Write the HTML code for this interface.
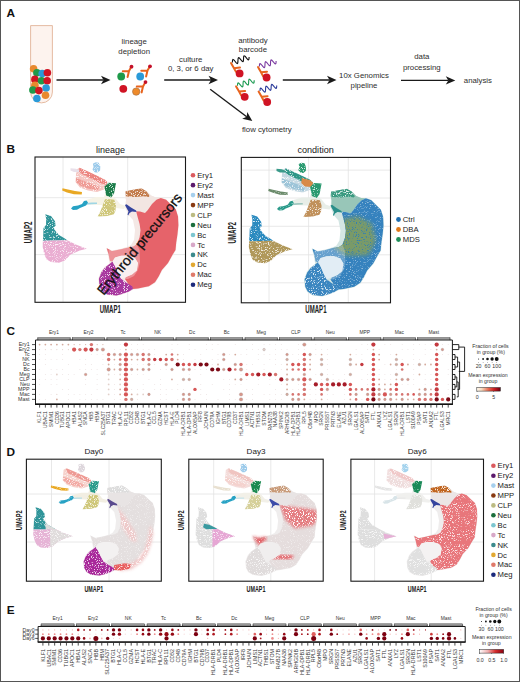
<!DOCTYPE html>
<html><head><meta charset="utf-8"><style>
html,body{margin:0;padding:0;background:#fff;width:520px;height:682px;overflow:hidden}
svg{display:block;font-family:"Liberation Sans", sans-serif}
</style></head><body>
<svg width="520" height="682" viewBox="0 0 520 682">
<rect x="0.5" y="0.5" width="519" height="681" fill="#fff" stroke="#555" stroke-width="1"/>
<text x="6.6" y="16.6" font-size="11.8" fill="#111" text-anchor="start" font-weight="bold" >A</text>
<text x="6.6" y="153.2" font-size="11.8" fill="#111" text-anchor="start" font-weight="bold" >B</text>
<text x="6.4" y="335" font-size="11.8" fill="#111" text-anchor="start" font-weight="bold" >C</text>
<text x="6.4" y="455.9" font-size="11.8" fill="#111" text-anchor="start" font-weight="bold" >D</text>
<text x="6.8" y="613.7" font-size="11.8" fill="#111" text-anchor="start" font-weight="bold" >E</text>
<path d="M30.6,25.6 H52.4 V92 A10.9,10.9 0 0 1 30.6,92 Z" fill="#fdf3ee" stroke="#e2b498" stroke-width="0.9"/>
<circle cx="33.6" cy="68.8" r="3.8" fill="#e8892e"/>
<circle cx="36.9" cy="72.8" r="3.8" fill="#1f9a4a"/>
<circle cx="42.2" cy="73.5" r="3.8" fill="#2a9ad8"/>
<circle cx="47.4" cy="72.8" r="3.8" fill="#d01424"/>
<circle cx="34.9" cy="79.4" r="3.8" fill="#d01424"/>
<circle cx="41.5" cy="80.7" r="3.8" fill="#1f9a4a"/>
<circle cx="47.2" cy="80.7" r="3.8" fill="#d01424"/>
<circle cx="34.9" cy="85.3" r="3.8" fill="#e8892e"/>
<circle cx="46.1" cy="88" r="3.8" fill="#2a9ad8"/>
<circle cx="32.9" cy="90" r="3.8" fill="#1f9a4a"/>
<circle cx="38.9" cy="90.6" r="3.8" fill="#d01424"/>
<circle cx="45.5" cy="95.2" r="3.8" fill="#e8892e"/>
<circle cx="36.9" cy="98.5" r="3.8" fill="#2a9ad8"/>
<line x1="56.5" y1="80" x2="103.5" y2="80" stroke="#1a1a1a" stroke-width="1.4"/>
<polygon points="110.5,80 101,84.2 103.5,80 101,75.8" fill="#1a1a1a"/>
<text x="134.2" y="43.8" font-size="7.8" fill="#2e2e2e" text-anchor="middle" font-weight="normal" >lineage</text>
<text x="134.2" y="53.8" font-size="7.8" fill="#2e2e2e" text-anchor="middle" font-weight="normal" >depletion</text>
<circle cx="121.2" cy="76.5" r="3.9" fill="#1f9a4a"/>
<circle cx="140.2" cy="76.5" r="3.9" fill="#2a9ad8"/>
<circle cx="123.3" cy="88.8" r="3.9" fill="#d01424"/>
<circle cx="136.2" cy="91.6" r="3.7" fill="#ee8a2a" stroke="#a06a40" stroke-width="0.6"/>
<g transform="translate(129,71) rotate(0) scale(1)"><path d="M-1.4,6.0 L0,0 L-6.2,0.2 M0,0 L2.2,-3.9" fill="none" stroke="#e8641e" stroke-width="2.0" stroke-linecap="round" stroke-linejoin="round"/><circle cx="2.5" cy="-4.3" r="1.9" fill="#c4102a"/></g>
<g transform="translate(147.5,70.6) rotate(0) scale(1)"><path d="M-1.4,6.0 L0,0 L-6.2,0.2 M0,0 L2.2,-3.9" fill="none" stroke="#e8641e" stroke-width="2.0" stroke-linecap="round" stroke-linejoin="round"/><circle cx="2.5" cy="-4.3" r="1.9" fill="#c4102a"/></g>
<g transform="translate(143,86.4) rotate(0) scale(1)"><path d="M-1.4,6.0 L0,0 L-6.2,0.2 M0,0 L2.2,-3.9" fill="none" stroke="#e8641e" stroke-width="2.0" stroke-linecap="round" stroke-linejoin="round"/><circle cx="2.5" cy="-4.3" r="1.9" fill="#c4102a"/></g>
<line x1="164.2" y1="80" x2="211" y2="80" stroke="#1a1a1a" stroke-width="1.4"/>
<polygon points="218,80 208.5,84.2 211,80 208.5,75.8" fill="#1a1a1a"/>
<text x="190.7" y="61.5" font-size="7.8" fill="#2e2e2e" text-anchor="middle" font-weight="normal" >culture</text>
<text x="190.7" y="71" font-size="7.8" fill="#2e2e2e" text-anchor="middle" font-weight="normal" >0, 3, or 6 day</text>
<line x1="210.2" y1="89.2" x2="246.71" y2="116.78" stroke="#1a1a1a" stroke-width="1.4"/>
<polygon points="252.3,121 242.19,118.63 246.71,116.78 247.25,111.92" fill="#1a1a1a"/>
<text x="241.9" y="131.7" font-size="7.8" fill="#2e2e2e" text-anchor="start" font-weight="normal" >flow cytometry</text>
<text x="252.9" y="42.7" font-size="7.8" fill="#2e2e2e" text-anchor="middle" font-weight="normal" >antibody</text>
<text x="252.9" y="52" font-size="7.8" fill="#2e2e2e" text-anchor="middle" font-weight="normal" >barcode</text>
<polyline points="232.4,62.4 232.46,61.01 232.62,59.96 232.98,59.47 233.55,59.65 234.31,60.4 235.18,61.48 236.05,62.57 236.82,63.32 237.39,63.49 237.74,63.01 237.91,61.95 237.97,60.57 238.02,59.18 238.19,58.12 238.55,57.64 239.12,57.82 239.88,58.57 240.75,59.65 241.62,60.73 242.38,61.48 242.95,61.66 243.31,61.18 243.48,60.12 243.53,58.73 243.59,57.35 243.76,56.29 244.11,55.81 244.68,55.98 245.45,56.73 246.32,57.82 247.19,58.9 247.95,59.65 248.52,59.83 248.88,59.34 249.04,58.29 249.1,56.9" fill="none" stroke="#111" stroke-width="1.1"/>
<path d="M231,63 L234,68.2 L240,67.6 M234,68.2 L236,71.8" fill="none" stroke="#e8641e" stroke-width="2.0" stroke-linecap="round" stroke-linejoin="round"/>
<circle cx="239.6" cy="73.4" r="3.9" fill="#d01424"/>
<polyline points="259.4,66.5 259.46,65.11 259.62,64.06 259.98,63.57 260.55,63.75 261.31,64.5 262.18,65.58 263.05,66.67 263.82,67.42 264.39,67.59 264.74,67.11 264.91,66.05 264.97,64.67 265.02,63.28 265.19,62.22 265.55,61.74 266.12,61.92 266.88,62.67 267.75,63.75 268.62,64.83 269.38,65.58 269.95,65.76 270.31,65.28 270.48,64.22 270.53,62.83 270.59,61.45 270.76,60.39 271.11,59.91 271.68,60.08 272.45,60.83 273.32,61.92 274.19,63 274.95,63.75 275.52,63.93 275.88,63.44 276.04,62.39 276.1,61" fill="none" stroke="#7a3aa0" stroke-width="1.1"/>
<path d="M258,67.1 L261,72.3 L267,71.7 M261,72.3 L263,75.9" fill="none" stroke="#e8641e" stroke-width="2.0" stroke-linecap="round" stroke-linejoin="round"/>
<circle cx="266.6" cy="77.5" r="3.9" fill="#d01424"/>
<polyline points="237.5,85.8 237.56,84.41 237.72,83.36 238.08,82.87 238.65,83.05 239.41,83.8 240.28,84.88 241.15,85.97 241.92,86.72 242.49,86.89 242.84,86.41 243.01,85.35 243.07,83.97 243.12,82.58 243.29,81.52 243.65,81.04 244.22,81.22 244.98,81.97 245.85,83.05 246.72,84.13 247.48,84.88 248.05,85.06 248.41,84.58 248.58,83.52 248.63,82.13 248.69,80.75 248.86,79.69 249.21,79.21 249.78,79.38 250.55,80.13 251.42,81.22 252.29,82.3 253.05,83.05 253.62,83.23 253.98,82.74 254.14,81.69 254.2,80.3" fill="none" stroke="#1a9a50" stroke-width="1.1"/>
<path d="M236.1,86.4 L239.1,91.6 L245.1,91 M239.1,91.6 L241.1,95.2" fill="none" stroke="#e8641e" stroke-width="2.0" stroke-linecap="round" stroke-linejoin="round"/>
<circle cx="244.7" cy="96.8" r="3.9" fill="#d01424"/>
<polyline points="260,91 260.06,89.61 260.22,88.56 260.58,88.07 261.15,88.25 261.91,89 262.78,90.08 263.65,91.17 264.42,91.92 264.99,92.09 265.34,91.61 265.51,90.55 265.57,89.17 265.62,87.78 265.79,86.72 266.15,86.24 266.72,86.42 267.48,87.17 268.35,88.25 269.22,89.33 269.98,90.08 270.55,90.26 270.91,89.78 271.08,88.72 271.13,87.33 271.19,85.95 271.36,84.89 271.71,84.41 272.28,84.58 273.05,85.33 273.92,86.42 274.79,87.5 275.55,88.25 276.12,88.43 276.48,87.94 276.64,86.89 276.7,85.5" fill="none" stroke="#2a3a9a" stroke-width="1.1"/>
<path d="M258.6,91.6 L261.6,96.8 L267.6,96.2 M261.6,96.8 L263.6,100.4" fill="none" stroke="#e8641e" stroke-width="2.0" stroke-linecap="round" stroke-linejoin="round"/>
<circle cx="267.2" cy="102" r="3.9" fill="#d01424"/>
<line x1="282.8" y1="80" x2="329.5" y2="80" stroke="#1a1a1a" stroke-width="1.4"/>
<polygon points="336.5,80 327,84.2 329.5,80 327,75.8" fill="#1a1a1a"/>
<text x="364" y="78.4" font-size="7.8" fill="#2e2e2e" text-anchor="middle" font-weight="normal" >10x Genomics</text>
<text x="364" y="88" font-size="7.8" fill="#2e2e2e" text-anchor="middle" font-weight="normal" >pipeline</text>
<line x1="401" y1="80.4" x2="448.3" y2="80.4" stroke="#1a1a1a" stroke-width="1.4"/>
<polygon points="455.3,80.4 445.8,84.6 448.3,80.4 445.8,76.2" fill="#1a1a1a"/>
<text x="421.8" y="59" font-size="7.8" fill="#2e2e2e" text-anchor="middle" font-weight="normal" >data</text>
<text x="421.8" y="69.5" font-size="7.8" fill="#2e2e2e" text-anchor="middle" font-weight="normal" >processing</text>
<text x="463.8" y="82.7" font-size="7.8" fill="#2e2e2e" text-anchor="start" font-weight="normal" >analysis</text>
<defs><filter id="spkL" x="-2%" y="-2%" width="104%" height="104%" color-interpolation-filters="sRGB"><feTurbulence type="fractalNoise" baseFrequency="1.0" numOctaves="2" seed="5" result="t"/><feColorMatrix in="t" type="matrix" values="0 0 0 0 1  0 0 0 0 1  0 0 0 0 1  0 0 0 6 -3.5" result="w0"/><feColorMatrix in="w0" type="matrix" values="1 0 0 0 0  0 1 0 0 0  0 0 1 0 0  0 0 0 0.45 0" result="w"/><feComposite in="w" in2="SourceAlpha" operator="in" result="w2"/><feMerge><feMergeNode in="SourceGraphic"/><feMergeNode in="w2"/></feMerge></filter></defs>
<defs><filter id="spkM" x="-2%" y="-2%" width="104%" height="104%" color-interpolation-filters="sRGB"><feTurbulence type="fractalNoise" baseFrequency="0.9" numOctaves="2" seed="5" result="t"/><feColorMatrix in="t" type="matrix" values="0 0 0 0 1  0 0 0 0 1  0 0 0 0 1  0 0 0 7 -3.9" result="w0"/><feColorMatrix in="w0" type="matrix" values="1 0 0 0 0  0 1 0 0 0  0 0 1 0 0  0 0 0 0.8 0" result="w"/><feComposite in="w" in2="SourceAlpha" operator="in" result="w2"/><feMerge><feMergeNode in="SourceGraphic"/><feMergeNode in="w2"/></feMerge></filter></defs>
<defs><filter id="spkH" x="-2%" y="-2%" width="104%" height="104%" color-interpolation-filters="sRGB"><feTurbulence type="fractalNoise" baseFrequency="0.9" numOctaves="2" seed="5" result="t"/><feColorMatrix in="t" type="matrix" values="0 0 0 0 1  0 0 0 0 1  0 0 0 0 1  0 0 0 6 -3.1" result="w0"/><feColorMatrix in="w0" type="matrix" values="1 0 0 0 0  0 1 0 0 0  0 0 1 0 0  0 0 0 0.85 0" result="w"/><feComposite in="w" in2="SourceAlpha" operator="in" result="w2"/><feMerge><feMergeNode in="SourceGraphic"/><feMergeNode in="w2"/></feMerge></filter></defs>
<defs><filter id="spkB" x="-10%" y="-10%" width="120%" height="120%" color-interpolation-filters="sRGB"><feGaussianBlur in="SourceGraphic" stdDeviation="2.2" result="b"/><feTurbulence type="fractalNoise" baseFrequency="0.9" numOctaves="2" seed="9" result="t"/><feColorMatrix in="t" type="matrix" values="0 0 0 0 0.2  0 0 0 0 0.5  0 0 0 0 0.7  0 0 0 7 -4.0" result="w"/><feComposite in="w" in2="b" operator="in" result="w2"/><feMerge><feMergeNode in="b"/><feMergeNode in="w2"/></feMerge></filter></defs>
<defs><filter id="spkM" x="-2%" y="-2%" width="104%" height="104%" color-interpolation-filters="sRGB"><feTurbulence type="fractalNoise" baseFrequency="0.9" numOctaves="2" seed="5" result="t"/><feColorMatrix in="t" type="matrix" values="0 0 0 0 1  0 0 0 0 1  0 0 0 0 1  0 0 0 7 -3.9" result="w0"/><feColorMatrix in="w0" type="matrix" values="1 0 0 0 0  0 1 0 0 0  0 0 1 0 0  0 0 0 1.0 0" result="w"/><feComposite in="w" in2="SourceAlpha" operator="in" result="w2"/><feMerge><feMergeNode in="SourceGraphic"/><feMergeNode in="w2"/></feMerge></filter></defs>
<defs><filter id="spkH" x="-2%" y="-2%" width="104%" height="104%" color-interpolation-filters="sRGB"><feTurbulence type="fractalNoise" baseFrequency="0.9" numOctaves="2" seed="5" result="t"/><feColorMatrix in="t" type="matrix" values="0 0 0 0 1  0 0 0 0 1  0 0 0 0 1  0 0 0 6 -3.1" result="w0"/><feColorMatrix in="w0" type="matrix" values="1 0 0 0 0  0 1 0 0 0  0 0 1 0 0  0 0 0 1.0 0" result="w"/><feComposite in="w" in2="SourceAlpha" operator="in" result="w2"/><feMerge><feMergeNode in="SourceGraphic"/><feMergeNode in="w2"/></feMerge></filter></defs>
<defs><filter id="spkBW" x="-10%" y="-10%" width="120%" height="120%" color-interpolation-filters="sRGB"><feGaussianBlur in="SourceGraphic" stdDeviation="1.6" result="b"/><feTurbulence type="fractalNoise" baseFrequency="0.9" numOctaves="2" seed="11" result="t"/><feColorMatrix in="t" type="matrix" values="0 0 0 0 1  0 0 0 0 1  0 0 0 0 1  0 0 0 7 -3.8" result="w"/><feComposite in="w" in2="b" operator="in" result="w2"/><feMerge><feMergeNode in="b"/><feMergeNode in="w2"/></feMerge></filter></defs>
<defs><clipPath id="clipDense" clipPathUnits="userSpaceOnUse"><polygon points="136.1,211.3 140,211.5 145,212.9 147.6,210.2 152,204 156.4,199.7 160.8,197.9 166.1,199.7 171.4,205 175.8,209.3 178,216.4 178.4,225.2 177.5,234 176.2,242.7 175.5,250 172.7,254.6 168,263 161.9,270 158.8,276.2 155,282.3 148.8,286.2 145,287 138,288.5 133,289 129,285 125,279 126,277 132,274.5 136.8,270.5 138,263 135,258 128,255.5 121,255.7 115,257.5 112.5,261.5 110,261 108.5,254 106.8,248.3 111.9,251.1 121.1,249.2 128.5,247.4 133.5,246.5 137,244.3 139.6,237.2 140.5,230.2 139.6,224 137.9,217.9"/></clipPath></defs>
<line x1="63" y1="157" x2="63" y2="302.3" stroke="#e2e2e2" stroke-width="0.8"/>
<line x1="127.7" y1="157" x2="127.7" y2="302.3" stroke="#e2e2e2" stroke-width="0.8"/>
<line x1="35" y1="197.7" x2="185.5" y2="197.7" stroke="#e2e2e2" stroke-width="0.8"/>
<line x1="35" y1="254.6" x2="185.5" y2="254.6" stroke="#e2e2e2" stroke-width="0.8"/>
<g transform="translate(35,157) scale(1.0000,1.0000) translate(-35,-157)">
<polygon points="125.7,191 133,190 141.6,188.4 147,191.5 151,195.5 156,197.5 160.8,197.5 166.1,199.3 171.4,204.6 175.8,209 178.4,216.4 178.8,225.2 178,234 176.6,242.7 176,250 173,255 168.4,263.3 162.2,270.4 159.2,276.6 155.4,282.7 149,286.8 145,287.6 138,289 133.5,289.5 128.5,292 122,294.5 116.5,296 107,295 101.5,291.5 99,286.5 98.3,278.8 101,271.5 104.5,267 109.5,263.5 108,254 106,247.7 112,250.5 121,248.7 128,246.5 131,245 134,240 135,230 133,220 128.5,215 125,207 126,200 125,195" fill="#f4e8e5"/>
<polygon points="125.7,191 133,190 141.6,188.4 147,191.5 151,195.5 156,197.5 160.8,197.9 156.4,199.7 152,204 147.6,210.2 145,212.9 140,211.5 136.1,211.3 130,210 126,207 126,200 125,195" fill="#f2e6e2"/>
<polygon points="86,200 96,197 104,197 106,192 112,196 116,199 120,204 126,206 124,209 116,208 110,205 100,205 90,204.5" fill="#f6f3e6"/>
<polygon points="136.1,211.3 140,211.5 145,212.9 147.6,210.2 152,204 156.4,199.7 160.8,197.9 166.1,199.7 171.4,205 175.8,209.3 178,216.4 178.4,225.2 177.5,234 176.2,242.7 175.5,250 172.7,254.6 168,263 161.9,270 158.8,276.2 155,282.3 148.8,286.2 145,287 138,288.5 133,289 129,285 125,279 126,277 132,274.5 136.8,270.5 138,263 135,258 128,255.5 121,255.7 115,257.5 112.5,261.5 110,261 108.5,254 106.8,248.3 111.9,251.1 121.1,249.2 128.5,247.4 133.5,246.5 137,244.3 139.6,237.2 140.5,230.2 139.6,224 137.9,217.9" fill="#e6636a" filter="url(#spkL)"/>
<polygon points="108.5,250 121,249.3 128.5,247.5 133.5,246.6 137,244.5 139.5,250 140,262 138,270 134,276 128,279 125,279 126,277 132,274.5 136.8,270.5 138,263 135,258 128,255.5 121,255.7 115,257.5 112.5,261.5 110,261 108.5,254" fill="#ffffff" fill-opacity="0.3"/>
<polygon points="98.9,278.8 101.5,272 105,267.5 109.5,264 112.5,261.5 115,266 118,273 121.1,278.8 126,282.5 132.2,286.2 133,289 128.5,291.7 122,294 116.5,295.4 107.2,294.5 102,291 99.5,286.2" fill="#a8389f" filter="url(#spkM)"/>
<polygon points="112.5,261.5 115,257.5 121,255.7 128,255.5 135,258 138,263 136.8,270.5 132,274.5 126,277 121.1,278.8 118,273 115,266" fill="#f9f0f0"/>
<polygon points="125.5,191.4 131.7,190 137,189 141.7,188.5 146.3,191.2 149.4,195.5 149,197 143.2,196.3 135.5,197 126,196.5" fill="#c27a4a" filter="url(#spkH)"/>
<polygon points="125,205 126.5,204.3 131,207.5 136.1,210.5 136.5,212 132,211.5 129.5,213 128.2,215.5 127.5,214.5 128.5,211.5 126,207" fill="#34449e"/>
<polygon points="92.9,163.7 95.5,162.3 98.7,162.8 100.3,166.5 100.1,170.5 97.5,172.6 95,172.4 92.4,169.5 93.6,167" fill="#9ccbeb" filter="url(#spkM)"/>
<polygon points="76.5,169.5 79.5,167.8 88,171.5 98,176.5 106,180.5 107.5,185 104,189.5 97,192 88,190.5 80,187.5 75.5,182 76,175" fill="#f5c6c2" filter="url(#spkM)"/>
<polygon points="70.5,168.3 76,168.8 79.5,170.3 79,172.2 74,172 70.5,170.6" fill="#e8e0ea"/>
<polygon points="79.5,167.8 84,169.8 95,174.8 104,179.2 107.3,182 106.5,184.8 100,183 92,179 82,174 79,171.5" fill="#ec8580" filter="url(#spkM)"/>
<polygon points="76,178 84,181 92,184 99,187 98,190.5 88,188.5 80,185.5 76,182" fill="#ef9a94" filter="url(#spkM)"/>
<polygon points="104.4,186.7 108.5,182.7 116,183.2 114,193.5 111.1,197.5 106.2,195.5" fill="#1b7d4a" filter="url(#spkM)"/>
<polygon points="97.7,216.5 100.6,211 103.1,204.2 105,199.2 110,199.2 114.3,199.8 116,205 115.4,211 113.8,214.3 107.1,216" fill="#cfc77a" filter="url(#spkM)"/>
<polygon points="62.5,188.3 68,189.6 75,191 82,192 81.7,194.6 74,194.2 67,192.4 62.2,190.6" fill="#e9a823" filter="url(#spkL)"/>
<polygon points="86,203 92,202.6 97,202.6 97,204 92,204.2 86,204.8" fill="#9fd6e4"/>
<polygon points="71,208.5 73,206.2 78,205.6 82,204 84,201 86.5,200.4 88,202.5 86,205.5 80,208 77,209.8 73,210" fill="#27a2c4" filter="url(#spkL)"/>
<polygon points="45.2,214.2 51,216 55,221.2 55.6,225.8 53.5,227.5 55.5,231 59,235 64.8,238.5 67.2,240.2 55,240.6 42.9,240.8 43.3,234 43.5,228 46,225 46.2,219" fill="#2f9499" filter="url(#spkM)"/>
<polygon points="42.9,240.8 55,240.6 67.2,240.2 76.4,244.8 86.8,248.8 79.8,250.6 70.6,254.6 64.8,260.4 59,262.7 51,262.1 46.4,259.2 44.1,253.5 42.6,246.5" fill="#eaaed2" filter="url(#spkM)"/>
</g>
<rect x="35" y="157" width="150.5" height="145.3" fill="none" stroke="#1a1a1a" stroke-width="1.1"/>
<text x="110.6" y="152.7" font-size="9" fill="#222" text-anchor="middle" font-weight="normal" >lineage</text>
<text x="110.25" y="312.8" font-size="10.3" fill="#222" text-anchor="middle" font-weight="bold" textLength="21.2" lengthAdjust="spacingAndGlyphs" >UMAP1</text>
<text x="0" y="0" font-size="10.3" fill="#222" text-anchor="middle" font-weight="bold" textLength="21.6" lengthAdjust="spacingAndGlyphs" transform="translate(31.5,232.35) rotate(-90)">UMAP2</text>
<text x="0" y="0" font-size="14" fill="#111" stroke="#111" stroke-width="0.3" transform="translate(103.7,296.1) rotate(-51)">Erythroid precursors</text>
<circle cx="193" cy="175.2" r="2.3" fill="#db5a5e"/>
<text x="197.2" y="177.8" font-size="7.7" fill="#222" text-anchor="start" font-weight="normal" >Ery1</text>
<circle cx="193" cy="185.16" r="2.3" fill="#5c1a6c"/>
<text x="197.2" y="187.76" font-size="7.7" fill="#222" text-anchor="start" font-weight="normal" >Ery2</text>
<circle cx="193" cy="195.12" r="2.3" fill="#a6d0ee"/>
<text x="197.2" y="197.72" font-size="7.7" fill="#222" text-anchor="start" font-weight="normal" >Mast</text>
<circle cx="193" cy="205.08" r="2.3" fill="#8a3a12"/>
<text x="197.2" y="207.68" font-size="7.7" fill="#222" text-anchor="start" font-weight="normal" >MPP</text>
<circle cx="193" cy="215.04" r="2.3" fill="#bcbb82"/>
<text x="197.2" y="217.64" font-size="7.7" fill="#222" text-anchor="start" font-weight="normal" >CLP</text>
<circle cx="193" cy="225" r="2.3" fill="#1b6e3c"/>
<text x="197.2" y="227.6" font-size="7.7" fill="#222" text-anchor="start" font-weight="normal" >Neu</text>
<circle cx="193" cy="234.96" r="2.3" fill="#7cc6d0"/>
<text x="197.2" y="237.56" font-size="7.7" fill="#222" text-anchor="start" font-weight="normal" >Bc</text>
<circle cx="193" cy="244.92" r="2.3" fill="#d8a8c8"/>
<text x="197.2" y="247.52" font-size="7.7" fill="#222" text-anchor="start" font-weight="normal" >Tc</text>
<circle cx="193" cy="254.88" r="2.3" fill="#3c8a8c"/>
<text x="197.2" y="257.48" font-size="7.7" fill="#222" text-anchor="start" font-weight="normal" >NK</text>
<circle cx="193" cy="264.84" r="2.3" fill="#e2a830"/>
<text x="197.2" y="267.44" font-size="7.7" fill="#222" text-anchor="start" font-weight="normal" >Dc</text>
<circle cx="193" cy="274.8" r="2.3" fill="#e07a6a"/>
<text x="197.2" y="277.4" font-size="7.7" fill="#222" text-anchor="start" font-weight="normal" >Mac</text>
<circle cx="193" cy="284.76" r="2.3" fill="#1c2a7c"/>
<text x="197.2" y="287.36" font-size="7.7" fill="#222" text-anchor="start" font-weight="normal" >Meg</text>
<line x1="269" y1="157.4" x2="269" y2="302.8" stroke="#e2e2e2" stroke-width="0.8"/>
<line x1="308.6" y1="157.4" x2="308.6" y2="302.8" stroke="#e2e2e2" stroke-width="0.8"/>
<line x1="348.3" y1="157.4" x2="348.3" y2="302.8" stroke="#e2e2e2" stroke-width="0.8"/>
<line x1="241.3" y1="170.1" x2="390.5" y2="170.1" stroke="#e2e2e2" stroke-width="0.8"/>
<line x1="241.3" y1="198" x2="390.5" y2="198" stroke="#e2e2e2" stroke-width="0.8"/>
<line x1="241.3" y1="226.3" x2="390.5" y2="226.3" stroke="#e2e2e2" stroke-width="0.8"/>
<line x1="241.3" y1="254.8" x2="390.5" y2="254.8" stroke="#e2e2e2" stroke-width="0.8"/>
<line x1="241.3" y1="282.8" x2="390.5" y2="282.8" stroke="#e2e2e2" stroke-width="0.8"/>
<g transform="translate(241.3,157.4) scale(0.9914,1.0007) translate(-35,-157)">
<polygon points="125.7,191 133,190 141.6,188.4 147,191.5 151,195.5 156,197.5 160.8,197.5 166.1,199.3 171.4,204.6 175.8,209 178.4,216.4 178.8,225.2 178,234 176.6,242.7 176,250 173,255 168.4,263.3 162.2,270.4 159.2,276.6 155.4,282.7 149,286.8 145,287.6 138,289 133.5,289.5 128.5,292 122,294.5 116.5,296 107,295 101.5,291.5 99,286.5 98.3,278.8 101,271.5 104.5,267 109.5,263.5 108,254 106,247.7 112,250.5 121,248.7 128,246.5 131,245 134,240 135,230 133,220 128.5,215 125,207 126,200 125,195" fill="#d4e6e4"/>
<polygon points="125.7,191 133,190 141.6,188.4 147,191.5 151,195.5 156,197.5 160.8,197.9 156.4,199.7 152,204 147.6,210.2 145,212.9 140,211.5 136.1,211.3 130,210 126,207 126,200 125,195" fill="#98c6b8"/>
<polygon points="86,200 96,197 104,197 106,192 112,196 116,199 120,204 126,206 124,209 116,208 110,205 100,205 90,204.5" fill="#e8eee8"/>
<polygon points="136.1,211.3 140,211.5 145,212.9 147.6,210.2 152,204 156.4,199.7 160.8,197.9 166.1,199.7 171.4,205 175.8,209.3 178,216.4 178.4,225.2 177.5,234 176.2,242.7 175.5,250 172.7,254.6 168,263 161.9,270 158.8,276.2 155,282.3 148.8,286.2 145,287 138,288.5 133,289 129,285 125,279 126,277 132,274.5 136.8,270.5 138,263 135,258 128,255.5 121,255.7 115,257.5 112.5,261.5 110,261 108.5,254 106.8,248.3 111.9,251.1 121.1,249.2 128.5,247.4 133.5,246.5 137,244.3 139.6,237.2 140.5,230.2 139.6,224 137.9,217.9" fill="#3582be" filter="url(#spkL)"/>
<g clip-path="url(#clipDense)">
<polygon points="128,221 152,216 166,223 170.5,240 163,254.5 140,255 128,246" fill="#7a9a68" filter="url(#spkB)"/>
</g>
<polygon points="108.5,250 121,249.3 128.5,247.5 133.5,246.6 137,244.5 139.5,250 140,262 138,270 134,276 128,279 125,279 126,277 132,274.5 136.8,270.5 138,263 135,258 128,255.5 121,255.7 115,257.5 112.5,261.5 110,261 108.5,254" fill="#ffffff" fill-opacity="0.25"/>
<polygon points="98.9,278.8 101.5,272 105,267.5 109.5,264 112.5,261.5 115,266 118,273 121.1,278.8 126,282.5 132.2,286.2 133,289 128.5,291.7 122,294 116.5,295.4 107.2,294.5 102,291 99.5,286.2" fill="#3b86c0" filter="url(#spkM)"/>
<polygon points="112.5,261.5 115,257.5 121,255.7 128,255.5 135,258 138,263 136.8,270.5 132,274.5 126,277 121.1,278.8 118,273 115,266" fill="#e2edf5"/>
<polygon points="125.5,191.4 131.7,190 137,189 141.7,188.5 146.3,191.2 149.4,195.5 149,197 143.2,196.3 135.5,197 126,196.5" fill="#3a9a80" filter="url(#spkH)"/>
<polygon points="125,205 126.5,204.3 131,207.5 136.1,210.5 136.5,212 132,211.5 129.5,213 128.2,215.5 127.5,214.5 128.5,211.5 126,207" fill="#2a8f8a"/>
<polygon points="92.9,163.7 95.5,162.3 98.7,162.8 100.3,166.5 100.1,170.5 97.5,172.6 95,172.4 92.4,169.5 93.6,167" fill="#2a9a70" filter="url(#spkM)"/>
<polygon points="76.5,169.5 79.5,167.8 88,171.5 98,176.5 106,180.5 107.5,185 104,189.5 97,192 88,190.5 80,187.5 75.5,182 76,175" fill="#c4d8e2" filter="url(#spkM)"/>
<polygon points="70.5,168.3 76,168.8 79.5,170.3 79,172.2 74,172 70.5,170.6" fill="#3a9a8a"/>
<polygon points="79.5,167.8 84,169.8 95,174.8 104,179.2 107.3,182 106.5,184.8 100,183 92,179 82,174 79,171.5" fill="#2f9688" filter="url(#spkM)"/>
<polygon points="76,178 84,181 92,184 99,187 98,190.5 88,188.5 80,185.5 76,182" fill="#9cc4d8" filter="url(#spkM)"/>
<polygon points="96,177.5 104,179.5 107.3,182 106.5,186.5 99,186 95.5,182.5" fill="#d88a48"/>
<polygon points="104.4,186.7 108.5,182.7 116,183.2 114,193.5 111.1,197.5 106.2,195.5" fill="#2a9a70" filter="url(#spkM)"/>
<polygon points="97.7,216.5 100.6,211 103.1,204.2 105,199.2 110,199.2 114.3,199.8 116,205 115.4,211 113.8,214.3 107.1,216" fill="#c0905a" filter="url(#spkM)"/>
<polygon points="62.5,188.3 68,189.6 75,191 82,192 81.7,194.6 74,194.2 67,192.4 62.2,190.6" fill="#6a8a6a" filter="url(#spkL)"/>
<polygon points="86,203 92,202.6 97,202.6 97,204 92,204.2 86,204.8" fill="#a0c8c0"/>
<polygon points="71,208.5 73,206.2 78,205.6 82,204 84,201 86.5,200.4 88,202.5 86,205.5 80,208 77,209.8 73,210" fill="#2a9a8a" filter="url(#spkL)"/>
<polygon points="45.2,214.2 51,216 55,221.2 55.6,225.8 53.5,227.5 55.5,231 59,235 64.8,238.5 67.2,240.2 55,240.6 42.9,240.8 43.3,234 43.5,228 46,225 46.2,219" fill="#2a8abf" filter="url(#spkM)"/>
<polygon points="42.9,240.8 55,240.6 67.2,240.2 76.4,244.8 86.8,248.8 79.8,250.6 70.6,254.6 64.8,260.4 59,262.7 51,262.1 46.4,259.2 44.1,253.5 42.6,246.5" fill="#b0985a" filter="url(#spkM)"/>
</g>
<rect x="241.3" y="157.4" width="149.2" height="145.4" fill="none" stroke="#1a1a1a" stroke-width="1.1"/>
<text x="315.6" y="152.7" font-size="9.1" fill="#222" text-anchor="middle" font-weight="normal" >condition</text>
<text x="315.9" y="312.6" font-size="10.3" fill="#222" text-anchor="middle" font-weight="bold" textLength="21.2" lengthAdjust="spacingAndGlyphs" >UMAP1</text>
<text x="0" y="0" font-size="10.3" fill="#222" text-anchor="middle" font-weight="bold" textLength="21.6" lengthAdjust="spacingAndGlyphs" transform="translate(236.4,232.8) rotate(-90)">UMAP2</text>
<circle cx="398.5" cy="219.5" r="2.4" fill="#1f6fb0"/>
<text x="402.8" y="222.1" font-size="7.7" fill="#222" text-anchor="start" font-weight="normal" >Ctrl</text>
<circle cx="398.5" cy="229.5" r="2.4" fill="#e07a1a"/>
<text x="402.8" y="232.1" font-size="7.7" fill="#222" text-anchor="start" font-weight="normal" >DBA</text>
<circle cx="398.5" cy="239.5" r="2.4" fill="#1f8f5a"/>
<text x="402.8" y="242.1" font-size="7.7" fill="#222" text-anchor="start" font-weight="normal" >MDS</text>
<line x1="51.5" y1="459.2" x2="51.5" y2="581.2" stroke="#e2e2e2" stroke-width="0.8"/>
<line x1="109" y1="459.2" x2="109" y2="581.2" stroke="#e2e2e2" stroke-width="0.8"/>
<line x1="26.4" y1="494" x2="161.3" y2="494" stroke="#e2e2e2" stroke-width="0.8"/>
<line x1="26.4" y1="542" x2="161.3" y2="542" stroke="#e2e2e2" stroke-width="0.8"/>
<g transform="translate(26.4,459.2) scale(0.8963,0.8396) translate(-35,-157)">
<polygon points="125.7,191 133,190 141.6,188.4 147,191.5 151,195.5 156,197.5 160.8,197.5 166.1,199.3 171.4,204.6 175.8,209 178.4,216.4 178.8,225.2 178,234 176.6,242.7 176,250 173,255 168.4,263.3 162.2,270.4 159.2,276.6 155.4,282.7 149,286.8 145,287.6 138,289 133.5,289.5 128.5,292 122,294.5 116.5,296 107,295 101.5,291.5 99,286.5 98.3,278.8 101,271.5 104.5,267 109.5,263.5 108,254 106,247.7 112,250.5 121,248.7 128,246.5 131,245 134,240 135,230 133,220 128.5,215 125,207 126,200 125,195" fill="#efeded"/>
<polygon points="125.7,191 133,190 141.6,188.4 147,191.5 151,195.5 156,197.5 160.8,197.9 156.4,199.7 152,204 147.6,210.2 145,212.9 140,211.5 136.1,211.3 130,210 126,207 126,200 125,195" fill="#e8e4e4"/>
<polygon points="86,200 96,197 104,197 106,192 112,196 116,199 120,204 126,206 124,209 116,208 110,205 100,205 90,204.5" fill="#f2eee2"/>
<polygon points="136.1,211.3 140,211.5 145,212.9 147.6,210.2 152,204 156.4,199.7 160.8,197.9 166.1,199.7 171.4,205 175.8,209.3 178,216.4 178.4,225.2 177.5,234 176.2,242.7 175.5,250 172.7,254.6 168,263 161.9,270 158.8,276.2 155,282.3 148.8,286.2 145,287 138,288.5 133,289 129,285 125,279 126,277 132,274.5 136.8,270.5 138,263 135,258 128,255.5 121,255.7 115,257.5 112.5,261.5 110,261 108.5,254 106.8,248.3 111.9,251.1 121.1,249.2 128.5,247.4 133.5,246.5 137,244.3 139.6,237.2 140.5,230.2 139.6,224 137.9,217.9" fill="#e4dfdf" filter="url(#spkL)"/>
<g clip-path="url(#clipDense)">
<polygon points="127,208 133,210 145,225 157,245 158,256 152,254 142,238 131,220 126,212" fill="#eecaca" filter="url(#spkBW)"/>
</g>
<polygon points="173,235 176.5,245 174,258 170,270 163,280 152,288 140,290 136,286 148,283 160,276 167,265 171,250" fill="#f0c4c4" filter="url(#spkBW)"/>
<polygon points="133,283 145,281 152,282 150,287.5 140,289.5 132,289" fill="#e86060" filter="url(#spkM)"/>
<polygon points="98.9,278.8 101.5,272 105,267.5 109.5,264 112.5,261.5 115,266 118,273 121.1,278.8 126,282.5 132.2,286.2 133,289 128.5,291.7 122,294 116.5,295.4 107.2,294.5 102,291 99.5,286.2" fill="#a8289a" filter="url(#spkM)"/>
<polygon points="112.5,261.5 115,257.5 121,255.7 128,255.5 135,258 138,263 136.8,270.5 132,274.5 126,277 121.1,278.8 118,273 115,266" fill="#f3f1f1"/>
<polygon points="125.5,191.4 131.7,190 137,189 141.7,188.5 146.3,191.2 149.4,195.5 149,197 143.2,196.3 135.5,197 126,196.5" fill="#dcdcdc" filter="url(#spkH)"/>
<polygon points="125,205 126.5,204.3 131,207.5 136.1,210.5 136.5,212 132,211.5 129.5,213 128.2,215.5 127.5,214.5 128.5,211.5 126,207" fill="#5a4a8e"/>
<polygon points="92.9,163.7 95.5,162.3 98.7,162.8 100.3,166.5 100.1,170.5 97.5,172.6 95,172.4 92.4,169.5 93.6,167" fill="#ddd6dc" filter="url(#spkM)"/>
<polygon points="76.5,169.5 79.5,167.8 88,171.5 98,176.5 106,180.5 107.5,185 104,189.5 97,192 88,190.5 80,187.5 75.5,182 76,175" fill="#f6d2cc" filter="url(#spkM)"/>
<polygon points="79.5,167.8 84,169.8 95,174.8 104,179.2 107.3,182 106.5,184.8 100,183 92,179 82,174 79,171.5" fill="#ee9a94" filter="url(#spkM)"/>
<polygon points="76,178 84,181 92,184 99,187 98,190.5 88,188.5 80,185.5 76,182" fill="#f2aaa4" filter="url(#spkM)"/>
<polygon points="104.4,186.7 108.5,182.7 116,183.2 114,193.5 111.1,197.5 106.2,195.5" fill="#2a9a8a" filter="url(#spkM)"/>
<polygon points="97.7,216.5 100.6,211 103.1,204.2 105,199.2 110,199.2 114.3,199.8 116,205 115.4,211 113.8,214.3 107.1,216" fill="#cfc77a" filter="url(#spkM)"/>
<polygon points="62.5,188.3 68,189.6 75,191 82,192 81.7,194.6 74,194.2 67,192.4 62.2,190.6" fill="#e9a823" filter="url(#spkL)"/>
<polygon points="86,203 92,202.6 97,202.6 97,204 92,204.2 86,204.8" fill="#b8dde6"/>
<polygon points="71,208.5 73,206.2 78,205.6 82,204 84,201 86.5,200.4 88,202.5 86,205.5 80,208 77,209.8 73,210" fill="#27a2c4" filter="url(#spkL)"/>
<polygon points="45.2,214.2 51,216 55,221.2 55.6,225.8 53.5,227.5 55.5,231 59,235 64.8,238.5 67.2,240.2 55,240.6 42.9,240.8 43.3,234 43.5,228 46,225 46.2,219" fill="#2f9499" filter="url(#spkM)"/>
<polygon points="56,225.5 55.5,231 59,235 64.8,238.5 67.2,240.2 61.5,240.3 56.5,240.5" fill="#dcdada" filter="url(#spkM)"/>
<polygon points="42.9,240.8 55,240.6 67.2,240.2 76.4,244.8 86.8,248.8 79.8,250.6 70.6,254.6 64.8,260.4 59,262.7 51,262.1 46.4,259.2 44.1,253.5 42.6,246.5" fill="#e6b4d6" filter="url(#spkM)"/>
<polygon points="61.5,240.3 67.2,240.2 76.4,244.8 86.8,248.8 79.8,250.6 70.6,254.6 64.8,260.4 61.5,261.8" fill="#e0dcdc" filter="url(#spkM)"/>
</g>
<rect x="26.4" y="459.2" width="134.9" height="122" fill="none" stroke="#1a1a1a" stroke-width="1.1"/>
<text x="93.85" y="453.9" font-size="8.1" fill="#222" text-anchor="middle" font-weight="normal" >Day0</text>
<text x="93.85" y="591.8" font-size="8.6" fill="#222" text-anchor="middle" font-weight="bold" textLength="18.8" lengthAdjust="spacingAndGlyphs" >UMAP1</text>
<text x="0" y="0" font-size="8.6" fill="#222" text-anchor="middle" font-weight="bold" textLength="19.8" lengthAdjust="spacingAndGlyphs" transform="translate(21.6,520.3) rotate(-90)">UMAP2</text>
<line x1="213.7" y1="459.2" x2="213.7" y2="581.2" stroke="#e2e2e2" stroke-width="0.8"/>
<line x1="270.8" y1="459.2" x2="270.8" y2="581.2" stroke="#e2e2e2" stroke-width="0.8"/>
<line x1="188.8" y1="494" x2="323.2" y2="494" stroke="#e2e2e2" stroke-width="0.8"/>
<line x1="188.8" y1="542" x2="323.2" y2="542" stroke="#e2e2e2" stroke-width="0.8"/>
<g transform="translate(188.8,459.2) scale(0.8930,0.8396) translate(-35,-157)">
<polygon points="125.7,191 133,190 141.6,188.4 147,191.5 151,195.5 156,197.5 160.8,197.5 166.1,199.3 171.4,204.6 175.8,209 178.4,216.4 178.8,225.2 178,234 176.6,242.7 176,250 173,255 168.4,263.3 162.2,270.4 159.2,276.6 155.4,282.7 149,286.8 145,287.6 138,289 133.5,289.5 128.5,292 122,294.5 116.5,296 107,295 101.5,291.5 99,286.5 98.3,278.8 101,271.5 104.5,267 109.5,263.5 108,254 106,247.7 112,250.5 121,248.7 128,246.5 131,245 134,240 135,230 133,220 128.5,215 125,207 126,200 125,195" fill="#efeded"/>
<polygon points="125.7,191 133,190 141.6,188.4 147,191.5 151,195.5 156,197.5 160.8,197.9 156.4,199.7 152,204 147.6,210.2 145,212.9 140,211.5 136.1,211.3 130,210 126,207 126,200 125,195" fill="#e8e4e4"/>
<polygon points="86,200 96,197 104,197 106,192 112,196 116,199 120,204 126,206 124,209 116,208 110,205 100,205 90,204.5" fill="#f2f0e8"/>
<polygon points="136.1,211.3 140,211.5 145,212.9 147.6,210.2 152,204 156.4,199.7 160.8,197.9 166.1,199.7 171.4,205 175.8,209.3 178,216.4 178.4,225.2 177.5,234 176.2,242.7 175.5,250 172.7,254.6 168,263 161.9,270 158.8,276.2 155,282.3 148.8,286.2 145,287 138,288.5 133,289 129,285 125,279 126,277 132,274.5 136.8,270.5 138,263 135,258 128,255.5 121,255.7 115,257.5 112.5,261.5 110,261 108.5,254 106.8,248.3 111.9,251.1 121.1,249.2 128.5,247.4 133.5,246.5 137,244.3 139.6,237.2 140.5,230.2 139.6,224 137.9,217.9" fill="#e5dddd" filter="url(#spkL)"/>
<g clip-path="url(#clipDense)">
<polygon points="136,210 150,213.5 165,215.5 179,218 179,229 174,236 154,239.5 143,229" fill="#e47c80" filter="url(#spkBW)"/>
</g>
<polygon points="106.5,248.5 113,251 121.5,249.5 122,253 117,256 115,261 112,257 109,253" fill="#e25a60" filter="url(#spkBW)"/>
<polygon points="128.6,271.5 140,271 152,271.5 151,276 140,276.3 129,275.5" fill="#e25c62" filter="url(#spkBW)"/>
<polygon points="98.9,278.8 101.5,272 105,267.5 109.5,264 112.5,261.5 115,266 118,273 121.1,278.8 126,282.5 132.2,286.2 133,289 128.5,291.7 122,294 116.5,295.4 107.2,294.5 102,291 99.5,286.2" fill="#e0dcdc" filter="url(#spkM)"/>
<polygon points="112.5,261.5 115,257.5 121,255.7 128,255.5 135,258 138,263 136.8,270.5 132,274.5 126,277 121.1,278.8 118,273 115,266" fill="#f0eeee"/>
<polygon points="125.5,191.4 131.7,190 137,189 141.7,188.5 146.3,191.2 149.4,195.5 149,197 143.2,196.3 135.5,197 126,196.5" fill="#c89a78" filter="url(#spkH)"/>
<polygon points="125,205 126.5,204.3 131,207.5 136.1,210.5 136.5,212 132,211.5 129.5,213 128.2,215.5 127.5,214.5 128.5,211.5 126,207" fill="#3a4aa8"/>
<polygon points="92.9,163.7 95.5,162.3 98.7,162.8 100.3,166.5 100.1,170.5 97.5,172.6 95,172.4 92.4,169.5 93.6,167" fill="#9ccbeb" filter="url(#spkM)"/>
<polygon points="76.5,169.5 79.5,167.8 88,171.5 98,176.5 106,180.5 107.5,185 104,189.5 97,192 88,190.5 80,187.5 75.5,182 76,175" fill="#f4dcda" filter="url(#spkM)"/>
<polygon points="79.5,167.8 84,169.8 95,174.8 104,179.2 107.3,182 106.5,184.8 100,183 92,179 82,174 79,171.5" fill="#f0c4c0" filter="url(#spkM)"/>
<polygon points="76,178 84,181 92,184 99,187 98,190.5 88,188.5 80,185.5 76,182" fill="#f4d2ce" filter="url(#spkM)"/>
<polygon points="104.4,186.7 108.5,182.7 116,183.2 114,193.5 111.1,197.5 106.2,195.5" fill="#1b8a50" filter="url(#spkM)"/>
<polygon points="97.7,216.5 100.6,211 103.1,204.2 105,199.2 110,199.2 114.3,199.8 116,205 115.4,211 113.8,214.3 107.1,216" fill="#d6d09a" filter="url(#spkM)"/>
<polygon points="62.5,188.3 68,189.6 75,191 82,192 81.7,194.6 74,194.2 67,192.4 62.2,190.6" fill="#e8e0d0" filter="url(#spkL)"/>
<polygon points="86,203 92,202.6 97,202.6 97,204 92,204.2 86,204.8" fill="#c8e4ea"/>
<polygon points="71,208.5 73,206.2 78,205.6 82,204 84,201 86.5,200.4 88,202.5 86,205.5 80,208 77,209.8 73,210" fill="#27a2c4" filter="url(#spkL)"/>
<polygon points="45.2,214.2 51,216 55,221.2 55.6,225.8 53.5,227.5 55.5,231 59,235 64.8,238.5 67.2,240.2 55,240.6 42.9,240.8 43.3,234 43.5,228 46,225 46.2,219" fill="#dedede" filter="url(#spkM)"/>
<polygon points="52,234 58,235 64.8,238.5 67.2,240.2 55,240.6 51,238" fill="#3a9aa0"/>
<polygon points="42.9,240.8 55,240.6 67.2,240.2 76.4,244.8 86.8,248.8 79.8,250.6 70.6,254.6 64.8,260.4 59,262.7 51,262.1 46.4,259.2 44.1,253.5 42.6,246.5" fill="#dedede" filter="url(#spkM)"/>
<polygon points="61.5,240.3 67.2,240.2 76.4,244.8 86.8,248.8 79.8,250.6 70.6,254.6 64.8,260.4 61.5,261.8" fill="#e6a6d4" filter="url(#spkM)"/>
</g>
<rect x="188.8" y="459.2" width="134.4" height="122" fill="none" stroke="#1a1a1a" stroke-width="1.1"/>
<text x="256" y="453.9" font-size="8.1" fill="#222" text-anchor="middle" font-weight="normal" >Day3</text>
<text x="256" y="591.8" font-size="8.6" fill="#222" text-anchor="middle" font-weight="bold" textLength="18.8" lengthAdjust="spacingAndGlyphs" >UMAP1</text>
<text x="0" y="0" font-size="8.6" fill="#222" text-anchor="middle" font-weight="bold" textLength="19.8" lengthAdjust="spacingAndGlyphs" transform="translate(184,520.3) rotate(-90)">UMAP2</text>
<line x1="374.6" y1="459.2" x2="374.6" y2="581.2" stroke="#e2e2e2" stroke-width="0.8"/>
<line x1="431.2" y1="459.2" x2="431.2" y2="581.2" stroke="#e2e2e2" stroke-width="0.8"/>
<line x1="350.9" y1="494" x2="483.5" y2="494" stroke="#e2e2e2" stroke-width="0.8"/>
<line x1="350.9" y1="542" x2="483.5" y2="542" stroke="#e2e2e2" stroke-width="0.8"/>
<g transform="translate(350.9,459.2) scale(0.8811,0.8396) translate(-35,-157)">
<polygon points="125.7,191 133,190 141.6,188.4 147,191.5 151,195.5 156,197.5 160.8,197.5 166.1,199.3 171.4,204.6 175.8,209 178.4,216.4 178.8,225.2 178,234 176.6,242.7 176,250 173,255 168.4,263.3 162.2,270.4 159.2,276.6 155.4,282.7 149,286.8 145,287.6 138,289 133.5,289.5 128.5,292 122,294.5 116.5,296 107,295 101.5,291.5 99,286.5 98.3,278.8 101,271.5 104.5,267 109.5,263.5 108,254 106,247.7 112,250.5 121,248.7 128,246.5 131,245 134,240 135,230 133,220 128.5,215 125,207 126,200 125,195" fill="#efeded"/>
<polygon points="125.7,191 133,190 141.6,188.4 147,191.5 151,195.5 156,197.5 160.8,197.9 156.4,199.7 152,204 147.6,210.2 145,212.9 140,211.5 136.1,211.3 130,210 126,207 126,200 125,195" fill="#ebe6e6"/>
<polygon points="86,200 96,197 104,197 106,192 112,196 116,199 120,204 126,206 124,209 116,208 110,205 100,205 90,204.5" fill="#f0f0ee"/>
<polygon points="136.1,211.3 140,211.5 145,212.9 147.6,210.2 152,204 156.4,199.7 160.8,197.9 166.1,199.7 171.4,205 175.8,209.3 178,216.4 178.4,225.2 177.5,234 176.2,242.7 175.5,250 172.7,254.6 168,263 161.9,270 158.8,276.2 155,282.3 148.8,286.2 145,287 138,288.5 133,289 129,285 125,279 126,277 132,274.5 136.8,270.5 138,263 135,258 128,255.5 121,255.7 115,257.5 112.5,261.5 110,261 108.5,254 106.8,248.3 111.9,251.1 121.1,249.2 128.5,247.4 133.5,246.5 137,244.3 139.6,237.2 140.5,230.2 139.6,224 137.9,217.9" fill="#e8767b" filter="url(#spkM)"/>
<polygon points="98.9,278.8 101.5,272 105,267.5 109.5,264 112.5,261.5 115,266 118,273 121.1,278.8 126,282.5 132.2,286.2 133,289 128.5,291.7 122,294 116.5,295.4 107.2,294.5 102,291 99.5,286.2" fill="#e0e0e0" filter="url(#spkM)"/>
<polygon points="112.5,261.5 115,257.5 121,255.7 128,255.5 135,258 138,263 136.8,270.5 132,274.5 126,277 121.1,278.8 118,273 115,266" fill="#f4f2f2"/>
<polygon points="125.5,191.4 131.7,190 137,189 141.7,188.5 146.3,191.2 149.4,195.5 149,197 143.2,196.3 135.5,197 126,196.5" fill="#c0641e" filter="url(#spkH)"/>
<polygon points="125,205 126.5,204.3 131,207.5 136.1,210.5 136.5,212 132,211.5 129.5,213 128.2,215.5 127.5,214.5 128.5,211.5 126,207" fill="#34449e"/>
<polygon points="92.9,163.7 95.5,162.3 98.7,162.8 100.3,166.5 100.1,170.5 97.5,172.6 95,172.4 92.4,169.5 93.6,167" fill="#a6d4ee" filter="url(#spkM)"/>
<polygon points="76.5,169.5 79.5,167.8 88,171.5 98,176.5 106,180.5 107.5,185 104,189.5 97,192 88,190.5 80,187.5 75.5,182 76,175" fill="#f2e0e0" filter="url(#spkM)"/>
<polygon points="79.5,167.8 84,169.8 95,174.8 104,179.2 107.3,182 106.5,184.8 100,183 92,179 82,174 79,171.5" fill="#f0c8c8" filter="url(#spkM)"/>
<polygon points="76,178 84,181 92,184 99,187 98,190.5 88,188.5 80,185.5 76,182" fill="#eedcdc" filter="url(#spkM)"/>
<polygon points="104.4,186.7 108.5,182.7 116,183.2 114,193.5 111.1,197.5 106.2,195.5" fill="#1b8a58" filter="url(#spkM)"/>
<polygon points="97.7,216.5 100.6,211 103.1,204.2 105,199.2 110,199.2 114.3,199.8 116,205 115.4,211 113.8,214.3 107.1,216" fill="#e0e0dc" filter="url(#spkM)"/>
<polygon points="62.5,188.3 68,189.6 75,191 82,192 81.7,194.6 74,194.2 67,192.4 62.2,190.6" fill="#e4e4e4" filter="url(#spkL)"/>
<polygon points="86,203 92,202.6 97,202.6 97,204 92,204.2 86,204.8" fill="#e8e8e8"/>
<polygon points="71,208.5 73,206.2 78,205.6 82,204 84,201 86.5,200.4 88,202.5 86,205.5 80,208 77,209.8 73,210" fill="#d8e4e8" filter="url(#spkL)"/>
<polygon points="45.2,214.2 51,216 55,221.2 55.6,225.8 53.5,227.5 55.5,231 59,235 64.8,238.5 67.2,240.2 55,240.6 42.9,240.8 43.3,234 43.5,228 46,225 46.2,219" fill="#dedede" filter="url(#spkM)"/>
<polygon points="42.9,240.8 55,240.6 67.2,240.2 76.4,244.8 86.8,248.8 79.8,250.6 70.6,254.6 64.8,260.4 59,262.7 51,262.1 46.4,259.2 44.1,253.5 42.6,246.5" fill="#dedede" filter="url(#spkM)"/>
<polygon points="72,245.5 86.8,248.8 79.8,250.6 73,252" fill="#e6b0d6"/>
</g>
<rect x="350.9" y="459.2" width="132.6" height="122" fill="none" stroke="#1a1a1a" stroke-width="1.1"/>
<text x="417.2" y="453.9" font-size="8.1" fill="#222" text-anchor="middle" font-weight="normal" >Day6</text>
<text x="417.2" y="591.8" font-size="8.6" fill="#222" text-anchor="middle" font-weight="bold" textLength="18.8" lengthAdjust="spacingAndGlyphs" >UMAP1</text>
<text x="0" y="0" font-size="8.6" fill="#222" text-anchor="middle" font-weight="bold" textLength="19.8" lengthAdjust="spacingAndGlyphs" transform="translate(346.1,520.3) rotate(-90)">UMAP2</text>
<circle cx="493.4" cy="465.8" r="2.3" fill="#db5a5e"/>
<text x="497.5" y="468.4" font-size="7.7" fill="#222" text-anchor="start" font-weight="normal" >Ery1</text>
<circle cx="493.4" cy="475.7" r="2.3" fill="#5c1a6c"/>
<text x="497.5" y="478.3" font-size="7.7" fill="#222" text-anchor="start" font-weight="normal" >Ery2</text>
<circle cx="493.4" cy="485.6" r="2.3" fill="#a6d0ee"/>
<text x="497.5" y="488.2" font-size="7.7" fill="#222" text-anchor="start" font-weight="normal" >Mast</text>
<circle cx="493.4" cy="495.5" r="2.3" fill="#8a3a12"/>
<text x="497.5" y="498.1" font-size="7.7" fill="#222" text-anchor="start" font-weight="normal" >MPP</text>
<circle cx="493.4" cy="505.4" r="2.3" fill="#bcbb82"/>
<text x="497.5" y="508" font-size="7.7" fill="#222" text-anchor="start" font-weight="normal" >CLP</text>
<circle cx="493.4" cy="515.3" r="2.3" fill="#1b6e3c"/>
<text x="497.5" y="517.9" font-size="7.7" fill="#222" text-anchor="start" font-weight="normal" >Neu</text>
<circle cx="493.4" cy="525.2" r="2.3" fill="#7cc6d0"/>
<text x="497.5" y="527.8" font-size="7.7" fill="#222" text-anchor="start" font-weight="normal" >Bc</text>
<circle cx="493.4" cy="535.1" r="2.3" fill="#d8a8c8"/>
<text x="497.5" y="537.7" font-size="7.7" fill="#222" text-anchor="start" font-weight="normal" >Tc</text>
<circle cx="493.4" cy="545" r="2.3" fill="#3c8a8c"/>
<text x="497.5" y="547.6" font-size="7.7" fill="#222" text-anchor="start" font-weight="normal" >NK</text>
<circle cx="493.4" cy="554.9" r="2.3" fill="#e2a830"/>
<text x="497.5" y="557.5" font-size="7.7" fill="#222" text-anchor="start" font-weight="normal" >Dc</text>
<circle cx="493.4" cy="564.8" r="2.3" fill="#e07a6a"/>
<text x="497.5" y="567.4" font-size="7.7" fill="#222" text-anchor="start" font-weight="normal" >Mac</text>
<circle cx="493.4" cy="574.7" r="2.3" fill="#1c2a7c"/>
<text x="497.5" y="577.3" font-size="7.7" fill="#222" text-anchor="start" font-weight="normal" >Meg</text>
<circle cx="39.6" cy="344.6" r="0.9" fill="#d4ab9e"/>
<circle cx="39.6" cy="349.58" r="0.55" fill="#e2d0ca"/>
<circle cx="39.6" cy="354.56" r="0.5" fill="#ece2e2"/>
<circle cx="39.6" cy="359.54" r="0.5" fill="#ece2e2"/>
<circle cx="39.6" cy="369.5" r="0.5" fill="#ece2e2"/>
<circle cx="39.6" cy="379.46" r="0.5" fill="#ece2e2"/>
<circle cx="39.6" cy="384.44" r="0.5" fill="#ece2e2"/>
<circle cx="39.6" cy="394.4" r="0.5" fill="#ece2e2"/>
<circle cx="39.6" cy="399.38" r="0.5" fill="#ece2e2"/>
<circle cx="45.36" cy="344.6" r="0.9" fill="#d4ab9e"/>
<circle cx="45.36" cy="349.58" r="0.55" fill="#e2d0ca"/>
<circle cx="45.36" cy="354.56" r="0.5" fill="#ece2e2"/>
<circle cx="45.36" cy="359.54" r="0.5" fill="#ece2e2"/>
<circle cx="45.36" cy="364.52" r="0.5" fill="#ece2e2"/>
<circle cx="45.36" cy="374.48" r="0.5" fill="#ece2e2"/>
<circle cx="45.36" cy="379.46" r="0.5" fill="#ece2e2"/>
<circle cx="45.36" cy="399.38" r="0.5" fill="#ece2e2"/>
<circle cx="51.11" cy="344.6" r="0.9" fill="#d4ab9e"/>
<circle cx="51.11" cy="349.58" r="0.55" fill="#e2d0ca"/>
<circle cx="51.11" cy="359.54" r="0.5" fill="#ece2e2"/>
<circle cx="51.11" cy="369.5" r="0.5" fill="#ece2e2"/>
<circle cx="51.11" cy="374.48" r="0.5" fill="#ece2e2"/>
<circle cx="51.11" cy="379.46" r="0.5" fill="#ece2e2"/>
<circle cx="51.11" cy="384.44" r="0.5" fill="#ece2e2"/>
<circle cx="51.11" cy="394.4" r="0.5" fill="#ece2e2"/>
<circle cx="56.87" cy="344.6" r="0.9" fill="#d4ab9e"/>
<circle cx="56.87" cy="349.58" r="0.55" fill="#e2d0ca"/>
<circle cx="56.87" cy="359.54" r="0.5" fill="#ece2e2"/>
<circle cx="56.87" cy="369.5" r="0.5" fill="#ece2e2"/>
<circle cx="56.87" cy="374.48" r="0.9" fill="#e2d0ca"/>
<circle cx="56.87" cy="379.46" r="0.5" fill="#ece2e2"/>
<circle cx="56.87" cy="384.44" r="0.5" fill="#ece2e2"/>
<circle cx="56.87" cy="394.4" r="0.55" fill="#e2d0ca"/>
<circle cx="56.87" cy="399.38" r="0.9" fill="#d4ab9e"/>
<circle cx="62.62" cy="344.6" r="0.9" fill="#d4ab9e"/>
<circle cx="62.62" cy="349.58" r="0.55" fill="#e2d0ca"/>
<circle cx="62.62" cy="354.56" r="0.5" fill="#ece2e2"/>
<circle cx="62.62" cy="359.54" r="0.5" fill="#ece2e2"/>
<circle cx="62.62" cy="369.5" r="0.5" fill="#ece2e2"/>
<circle cx="62.62" cy="374.48" r="0.5" fill="#ece2e2"/>
<circle cx="62.62" cy="389.42" r="0.5" fill="#ece2e2"/>
<circle cx="68.38" cy="344.6" r="0.9" fill="#d4ab9e"/>
<circle cx="68.38" cy="349.58" r="0.55" fill="#e2d0ca"/>
<circle cx="68.38" cy="364.52" r="0.5" fill="#ece2e2"/>
<circle cx="68.38" cy="374.48" r="0.5" fill="#ece2e2"/>
<circle cx="68.38" cy="379.46" r="0.5" fill="#ece2e2"/>
<circle cx="68.38" cy="389.42" r="0.5" fill="#ece2e2"/>
<circle cx="68.38" cy="394.4" r="0.5" fill="#ece2e2"/>
<circle cx="68.38" cy="399.38" r="0.5" fill="#ece2e2"/>
<circle cx="74.13" cy="344.6" r="0.55" fill="#d4ab9e"/>
<circle cx="74.13" cy="349.58" r="2.1" fill="#d65656"/>
<circle cx="74.13" cy="374.48" r="0.5" fill="#ece2e2"/>
<circle cx="74.13" cy="394.4" r="0.5" fill="#ece2e2"/>
<circle cx="79.88" cy="344.6" r="0.55" fill="#d4ab9e"/>
<circle cx="79.88" cy="349.58" r="1.7" fill="#d67470"/>
<circle cx="79.88" cy="359.54" r="0.5" fill="#ece2e2"/>
<circle cx="79.88" cy="369.5" r="0.5" fill="#ece2e2"/>
<circle cx="79.88" cy="394.4" r="0.5" fill="#ece2e2"/>
<circle cx="79.88" cy="399.38" r="0.5" fill="#ece2e2"/>
<circle cx="85.64" cy="344.6" r="0.55" fill="#d4ab9e"/>
<circle cx="85.64" cy="349.58" r="2.1" fill="#d65656"/>
<circle cx="85.64" cy="359.54" r="0.5" fill="#ece2e2"/>
<circle cx="85.64" cy="364.52" r="0.5" fill="#ece2e2"/>
<circle cx="85.64" cy="369.5" r="0.5" fill="#ece2e2"/>
<circle cx="85.64" cy="374.48" r="1.3" fill="#d8978a" stroke="#a09090" stroke-width="0.3"/>
<circle cx="85.64" cy="379.46" r="0.5" fill="#ece2e2"/>
<circle cx="85.64" cy="384.44" r="0.5" fill="#ece2e2"/>
<circle cx="85.64" cy="394.4" r="0.5" fill="#ece2e2"/>
<circle cx="85.64" cy="399.38" r="0.5" fill="#ece2e2"/>
<circle cx="91.4" cy="344.6" r="1.7" fill="#d67470"/>
<circle cx="91.4" cy="349.58" r="2.1" fill="#c43a40"/>
<circle cx="91.4" cy="354.56" r="0.5" fill="#ece2e2"/>
<circle cx="91.4" cy="364.52" r="0.5" fill="#ece2e2"/>
<circle cx="91.4" cy="369.5" r="0.5" fill="#ece2e2"/>
<circle cx="91.4" cy="394.4" r="0.5" fill="#ece2e2"/>
<circle cx="91.4" cy="399.38" r="0.5" fill="#ece2e2"/>
<circle cx="97.15" cy="344.6" r="0.55" fill="#d4ab9e"/>
<circle cx="97.15" cy="349.58" r="1.3" fill="#d8978a" stroke="#a09090" stroke-width="0.3"/>
<circle cx="97.15" cy="354.56" r="0.5" fill="#ece2e2"/>
<circle cx="97.15" cy="369.5" r="0.5" fill="#ece2e2"/>
<circle cx="97.15" cy="374.48" r="0.5" fill="#ece2e2"/>
<circle cx="97.15" cy="379.46" r="0.5" fill="#ece2e2"/>
<circle cx="97.15" cy="384.44" r="0.5" fill="#ece2e2"/>
<circle cx="97.15" cy="389.42" r="0.5" fill="#ece2e2"/>
<circle cx="97.15" cy="399.38" r="0.5" fill="#ece2e2"/>
<circle cx="102.91" cy="344.6" r="0.55" fill="#d4ab9e"/>
<circle cx="102.91" cy="349.58" r="1.7" fill="#d8978a" stroke="#a09090" stroke-width="0.3"/>
<circle cx="102.91" cy="354.56" r="0.5" fill="#ece2e2"/>
<circle cx="102.91" cy="359.54" r="0.5" fill="#ece2e2"/>
<circle cx="102.91" cy="364.52" r="0.5" fill="#ece2e2"/>
<circle cx="102.91" cy="399.38" r="0.5" fill="#ece2e2"/>
<circle cx="108.66" cy="354.56" r="1.7" fill="#d67470"/>
<circle cx="108.66" cy="359.54" r="1.7" fill="#d67470"/>
<circle cx="108.66" cy="364.52" r="0.9" fill="#d4ab9e"/>
<circle cx="108.66" cy="369.5" r="1.7" fill="#d8978a" stroke="#a09090" stroke-width="0.3"/>
<circle cx="108.66" cy="374.48" r="0.9" fill="#e2d0ca"/>
<circle cx="108.66" cy="379.46" r="0.9" fill="#e2d0ca"/>
<circle cx="108.66" cy="384.44" r="0.9" fill="#e2d0ca"/>
<circle cx="108.66" cy="389.42" r="0.9" fill="#e2d0ca"/>
<circle cx="108.66" cy="394.4" r="0.9" fill="#e2d0ca"/>
<circle cx="114.41" cy="349.58" r="0.5" fill="#ece2e2"/>
<circle cx="114.41" cy="354.56" r="1.3" fill="#d8978a" stroke="#a09090" stroke-width="0.3"/>
<circle cx="114.41" cy="359.54" r="0.9" fill="#d4ab9e"/>
<circle cx="114.41" cy="364.52" r="0.5" fill="#ece2e2"/>
<circle cx="114.41" cy="369.5" r="0.9" fill="#d4ab9e"/>
<circle cx="114.41" cy="374.48" r="0.5" fill="#ece2e2"/>
<circle cx="114.41" cy="384.44" r="0.5" fill="#ece2e2"/>
<circle cx="114.41" cy="389.42" r="0.5" fill="#ece2e2"/>
<circle cx="114.41" cy="394.4" r="0.5" fill="#ece2e2"/>
<circle cx="114.41" cy="399.38" r="0.5" fill="#ece2e2"/>
<circle cx="120.17" cy="344.6" r="0.5" fill="#ece2e2"/>
<circle cx="120.17" cy="349.58" r="0.5" fill="#ece2e2"/>
<circle cx="120.17" cy="354.56" r="1.3" fill="#d8978a" stroke="#a09090" stroke-width="0.3"/>
<circle cx="120.17" cy="359.54" r="1.3" fill="#d67470"/>
<circle cx="120.17" cy="364.52" r="1.3" fill="#d8978a" stroke="#a09090" stroke-width="0.3"/>
<circle cx="120.17" cy="369.5" r="1.3" fill="#d8978a" stroke="#a09090" stroke-width="0.3"/>
<circle cx="120.17" cy="374.48" r="0.9" fill="#e2d0ca"/>
<circle cx="120.17" cy="379.46" r="0.9" fill="#d4ab9e"/>
<circle cx="120.17" cy="384.44" r="0.9" fill="#e2d0ca"/>
<circle cx="120.17" cy="389.42" r="0.9" fill="#d4ab9e"/>
<circle cx="120.17" cy="394.4" r="0.9" fill="#d4ab9e"/>
<circle cx="120.17" cy="399.38" r="0.5" fill="#ece2e2"/>
<circle cx="125.93" cy="344.6" r="2.1" fill="#c43a40"/>
<circle cx="125.93" cy="349.58" r="0.9" fill="#d4ab9e"/>
<circle cx="125.93" cy="354.56" r="2.1" fill="#d65656"/>
<circle cx="125.93" cy="359.54" r="2.1" fill="#d65656"/>
<circle cx="125.93" cy="364.52" r="2.1" fill="#d65656"/>
<circle cx="125.93" cy="369.5" r="2.1" fill="#d65656"/>
<circle cx="125.93" cy="374.48" r="2.1" fill="#d65656"/>
<circle cx="125.93" cy="379.46" r="2.1" fill="#d65656"/>
<circle cx="125.93" cy="384.44" r="2.1" fill="#d65656"/>
<circle cx="125.93" cy="389.42" r="2.1" fill="#d65656"/>
<circle cx="125.93" cy="394.4" r="2.1" fill="#d65656"/>
<circle cx="125.93" cy="399.38" r="1.7" fill="#d67470"/>
<circle cx="131.68" cy="344.6" r="0.5" fill="#ece2e2"/>
<circle cx="131.68" cy="349.58" r="0.5" fill="#ece2e2"/>
<circle cx="131.68" cy="354.56" r="1.3" fill="#d8978a" stroke="#a09090" stroke-width="0.3"/>
<circle cx="131.68" cy="359.54" r="0.9" fill="#d4ab9e"/>
<circle cx="131.68" cy="364.52" r="0.5" fill="#ece2e2"/>
<circle cx="131.68" cy="369.5" r="1.3" fill="#d8978a" stroke="#a09090" stroke-width="0.3"/>
<circle cx="131.68" cy="374.48" r="0.5" fill="#ece2e2"/>
<circle cx="131.68" cy="389.42" r="0.5" fill="#ece2e2"/>
<circle cx="131.68" cy="394.4" r="0.9" fill="#d4ab9e"/>
<circle cx="131.68" cy="399.38" r="1.3" fill="#d4ab9e" stroke="#a09090" stroke-width="0.3"/>
<circle cx="137.44" cy="344.6" r="0.5" fill="#ece2e2"/>
<circle cx="137.44" cy="349.58" r="0.5" fill="#ece2e2"/>
<circle cx="137.44" cy="354.56" r="1.3" fill="#d8978a" stroke="#a09090" stroke-width="0.3"/>
<circle cx="137.44" cy="359.54" r="0.9" fill="#d4ab9e"/>
<circle cx="137.44" cy="364.52" r="0.5" fill="#ece2e2"/>
<circle cx="137.44" cy="369.5" r="0.9" fill="#d4ab9e"/>
<circle cx="137.44" cy="374.48" r="0.5" fill="#ece2e2"/>
<circle cx="137.44" cy="389.42" r="0.5" fill="#ece2e2"/>
<circle cx="137.44" cy="394.4" r="0.9" fill="#e2d0ca"/>
<circle cx="137.44" cy="399.38" r="0.5" fill="#ece2e2"/>
<circle cx="143.19" cy="344.6" r="0.5" fill="#ece2e2"/>
<circle cx="143.19" cy="349.58" r="0.5" fill="#ece2e2"/>
<circle cx="143.19" cy="354.56" r="1.7" fill="#d67470"/>
<circle cx="143.19" cy="359.54" r="1.7" fill="#d67470"/>
<circle cx="143.19" cy="364.52" r="0.5" fill="#ece2e2"/>
<circle cx="143.19" cy="369.5" r="1.3" fill="#d8978a" stroke="#a09090" stroke-width="0.3"/>
<circle cx="143.19" cy="374.48" r="0.5" fill="#ece2e2"/>
<circle cx="143.19" cy="384.44" r="0.5" fill="#ece2e2"/>
<circle cx="143.19" cy="389.42" r="0.5" fill="#ece2e2"/>
<circle cx="143.19" cy="394.4" r="0.9" fill="#e2d0ca"/>
<circle cx="148.94" cy="349.58" r="0.5" fill="#ece2e2"/>
<circle cx="148.94" cy="354.56" r="1.3" fill="#d8978a" stroke="#a09090" stroke-width="0.3"/>
<circle cx="148.94" cy="359.54" r="1.7" fill="#d67470"/>
<circle cx="148.94" cy="364.52" r="1.3" fill="#d8978a" stroke="#a09090" stroke-width="0.3"/>
<circle cx="148.94" cy="369.5" r="1.3" fill="#d8978a" stroke="#a09090" stroke-width="0.3"/>
<circle cx="148.94" cy="379.46" r="0.5" fill="#ece2e2"/>
<circle cx="148.94" cy="394.4" r="1.3" fill="#d8978a" stroke="#a09090" stroke-width="0.3"/>
<circle cx="154.7" cy="349.58" r="0.5" fill="#ece2e2"/>
<circle cx="154.7" cy="354.56" r="0.5" fill="#ece2e2"/>
<circle cx="154.7" cy="359.54" r="1.7" fill="#c43a40"/>
<circle cx="154.7" cy="364.52" r="0.5" fill="#ece2e2"/>
<circle cx="154.7" cy="384.44" r="0.5" fill="#ece2e2"/>
<circle cx="154.7" cy="389.42" r="0.5" fill="#ece2e2"/>
<circle cx="160.46" cy="359.54" r="1.7" fill="#c43a40"/>
<circle cx="160.46" cy="369.5" r="0.5" fill="#ece2e2"/>
<circle cx="160.46" cy="379.46" r="0.5" fill="#ece2e2"/>
<circle cx="160.46" cy="384.44" r="0.5" fill="#ece2e2"/>
<circle cx="160.46" cy="389.42" r="0.5" fill="#ece2e2"/>
<circle cx="160.46" cy="394.4" r="0.5" fill="#ece2e2"/>
<circle cx="160.46" cy="399.38" r="0.5" fill="#ece2e2"/>
<circle cx="166.21" cy="354.56" r="0.9" fill="#d4ab9e"/>
<circle cx="166.21" cy="359.54" r="1.7" fill="#d65656"/>
<circle cx="166.21" cy="364.52" r="1.3" fill="#d8978a" stroke="#a09090" stroke-width="0.3"/>
<circle cx="166.21" cy="369.5" r="0.5" fill="#ece2e2"/>
<circle cx="166.21" cy="389.42" r="0.5" fill="#ece2e2"/>
<circle cx="166.21" cy="394.4" r="0.5" fill="#ece2e2"/>
<circle cx="166.21" cy="399.38" r="0.5" fill="#ece2e2"/>
<circle cx="171.97" cy="344.6" r="0.5" fill="#ece2e2"/>
<circle cx="171.97" cy="349.58" r="0.5" fill="#ece2e2"/>
<circle cx="171.97" cy="354.56" r="1.3" fill="#d67470"/>
<circle cx="171.97" cy="359.54" r="1.7" fill="#d67470"/>
<circle cx="171.97" cy="369.5" r="1.3" fill="#d8978a" stroke="#a09090" stroke-width="0.3"/>
<circle cx="171.97" cy="379.46" r="0.9" fill="#d4ab9e"/>
<circle cx="171.97" cy="389.42" r="0.5" fill="#ece2e2"/>
<circle cx="177.72" cy="344.6" r="0.5" fill="#ece2e2"/>
<circle cx="177.72" cy="354.56" r="0.9" fill="#d4ab9e"/>
<circle cx="177.72" cy="359.54" r="0.9" fill="#d4ab9e"/>
<circle cx="177.72" cy="364.52" r="2.1" fill="#7c0a16"/>
<circle cx="177.72" cy="384.44" r="0.5" fill="#ece2e2"/>
<circle cx="177.72" cy="389.42" r="0.5" fill="#ece2e2"/>
<circle cx="177.72" cy="399.38" r="0.5" fill="#ece2e2"/>
<circle cx="183.47" cy="354.56" r="0.5" fill="#ece2e2"/>
<circle cx="183.47" cy="359.54" r="0.5" fill="#ece2e2"/>
<circle cx="183.47" cy="364.52" r="1.7" fill="#d65656"/>
<circle cx="183.47" cy="369.5" r="1.3" fill="#d8978a" stroke="#a09090" stroke-width="0.3"/>
<circle cx="183.47" cy="379.46" r="1.3" fill="#d4ab9e" stroke="#a09090" stroke-width="0.3"/>
<circle cx="183.47" cy="389.42" r="0.5" fill="#ece2e2"/>
<circle cx="183.47" cy="394.4" r="1.3" fill="#d8978a" stroke="#a09090" stroke-width="0.3"/>
<circle cx="183.47" cy="399.38" r="1.3" fill="#d8978a" stroke="#a09090" stroke-width="0.3"/>
<circle cx="189.23" cy="344.6" r="0.5" fill="#ece2e2"/>
<circle cx="189.23" cy="349.58" r="0.5" fill="#ece2e2"/>
<circle cx="189.23" cy="364.52" r="1.7" fill="#d65656"/>
<circle cx="189.23" cy="369.5" r="1.3" fill="#d8978a" stroke="#a09090" stroke-width="0.3"/>
<circle cx="189.23" cy="374.48" r="0.5" fill="#ece2e2"/>
<circle cx="189.23" cy="379.46" r="1.3" fill="#d4ab9e" stroke="#a09090" stroke-width="0.3"/>
<circle cx="189.23" cy="394.4" r="1.3" fill="#d8978a" stroke="#a09090" stroke-width="0.3"/>
<circle cx="189.23" cy="399.38" r="1.3" fill="#d8978a" stroke="#a09090" stroke-width="0.3"/>
<circle cx="194.98" cy="349.58" r="0.5" fill="#ece2e2"/>
<circle cx="194.98" cy="359.54" r="0.5" fill="#ece2e2"/>
<circle cx="194.98" cy="364.52" r="1.7" fill="#c43a40"/>
<circle cx="194.98" cy="369.5" r="0.5" fill="#ece2e2"/>
<circle cx="194.98" cy="389.42" r="1.7" fill="#d65656"/>
<circle cx="194.98" cy="399.38" r="0.5" fill="#ece2e2"/>
<circle cx="200.74" cy="354.56" r="0.5" fill="#ece2e2"/>
<circle cx="200.74" cy="359.54" r="0.5" fill="#ece2e2"/>
<circle cx="200.74" cy="364.52" r="2.1" fill="#7c0a16"/>
<circle cx="200.74" cy="369.5" r="0.5" fill="#ece2e2"/>
<circle cx="200.74" cy="374.48" r="0.5" fill="#ece2e2"/>
<circle cx="200.74" cy="384.44" r="0.5" fill="#ece2e2"/>
<circle cx="200.74" cy="389.42" r="0.5" fill="#ece2e2"/>
<circle cx="200.74" cy="394.4" r="0.5" fill="#ece2e2"/>
<circle cx="206.5" cy="344.6" r="0.5" fill="#ece2e2"/>
<circle cx="206.5" cy="349.58" r="0.5" fill="#ece2e2"/>
<circle cx="206.5" cy="364.52" r="2.1" fill="#7c0a16"/>
<circle cx="206.5" cy="369.5" r="0.5" fill="#ece2e2"/>
<circle cx="206.5" cy="394.4" r="0.5" fill="#ece2e2"/>
<circle cx="206.5" cy="399.38" r="0.5" fill="#ece2e2"/>
<circle cx="212.25" cy="344.6" r="0.5" fill="#ece2e2"/>
<circle cx="212.25" cy="349.58" r="0.5" fill="#ece2e2"/>
<circle cx="212.25" cy="359.54" r="0.5" fill="#ece2e2"/>
<circle cx="212.25" cy="364.52" r="0.5" fill="#ece2e2"/>
<circle cx="212.25" cy="369.5" r="2.1" fill="#7c0a16"/>
<circle cx="212.25" cy="384.44" r="0.5" fill="#ece2e2"/>
<circle cx="218" cy="344.6" r="0.5" fill="#ece2e2"/>
<circle cx="218" cy="354.56" r="0.5" fill="#ece2e2"/>
<circle cx="218" cy="359.54" r="0.5" fill="#ece2e2"/>
<circle cx="218" cy="364.52" r="0.9" fill="#d4ab9e"/>
<circle cx="218" cy="369.5" r="2.1" fill="#7c0a16"/>
<circle cx="218" cy="399.38" r="0.5" fill="#ece2e2"/>
<circle cx="223.76" cy="354.56" r="1.3" fill="#d8978a" stroke="#a09090" stroke-width="0.3"/>
<circle cx="223.76" cy="359.54" r="1.3" fill="#d8978a" stroke="#a09090" stroke-width="0.3"/>
<circle cx="223.76" cy="369.5" r="1.3" fill="#d8978a" stroke="#a09090" stroke-width="0.3"/>
<circle cx="223.76" cy="379.46" r="0.5" fill="#ece2e2"/>
<circle cx="223.76" cy="389.42" r="0.5" fill="#ece2e2"/>
<circle cx="229.51" cy="354.56" r="0.5" fill="#ece2e2"/>
<circle cx="229.51" cy="369.5" r="2.1" fill="#a61c28"/>
<circle cx="229.51" cy="379.46" r="0.5" fill="#ece2e2"/>
<circle cx="229.51" cy="384.44" r="0.5" fill="#ece2e2"/>
<circle cx="229.51" cy="389.42" r="0.5" fill="#ece2e2"/>
<circle cx="229.51" cy="394.4" r="0.5" fill="#ece2e2"/>
<circle cx="229.51" cy="399.38" r="0.5" fill="#ece2e2"/>
<circle cx="235.27" cy="344.6" r="0.5" fill="#ece2e2"/>
<circle cx="235.27" cy="354.56" r="0.9" fill="#d4ab9e"/>
<circle cx="235.27" cy="364.52" r="1.3" fill="#d8978a" stroke="#a09090" stroke-width="0.3"/>
<circle cx="235.27" cy="369.5" r="1.3" fill="#d67470"/>
<circle cx="235.27" cy="379.46" r="0.9" fill="#d4ab9e"/>
<circle cx="235.27" cy="384.44" r="0.5" fill="#ece2e2"/>
<circle cx="235.27" cy="399.38" r="0.5" fill="#ece2e2"/>
<circle cx="241.02" cy="354.56" r="0.5" fill="#ece2e2"/>
<circle cx="241.02" cy="364.52" r="1.7" fill="#d67470"/>
<circle cx="241.02" cy="369.5" r="1.7" fill="#d8978a" stroke="#a09090" stroke-width="0.3"/>
<circle cx="241.02" cy="374.48" r="0.5" fill="#ece2e2"/>
<circle cx="241.02" cy="379.46" r="1.3" fill="#d8978a" stroke="#a09090" stroke-width="0.3"/>
<circle cx="241.02" cy="384.44" r="0.5" fill="#ece2e2"/>
<circle cx="241.02" cy="394.4" r="1.7" fill="#d8978a" stroke="#a09090" stroke-width="0.3"/>
<circle cx="241.02" cy="399.38" r="1.7" fill="#d8978a" stroke="#a09090" stroke-width="0.3"/>
<circle cx="246.78" cy="349.58" r="0.5" fill="#ece2e2"/>
<circle cx="246.78" cy="354.56" r="0.5" fill="#ece2e2"/>
<circle cx="246.78" cy="364.52" r="0.5" fill="#ece2e2"/>
<circle cx="246.78" cy="369.5" r="0.5" fill="#ece2e2"/>
<circle cx="246.78" cy="374.48" r="1.7" fill="#d65656"/>
<circle cx="246.78" cy="379.46" r="0.5" fill="#ece2e2"/>
<circle cx="246.78" cy="389.42" r="0.5" fill="#ece2e2"/>
<circle cx="246.78" cy="399.38" r="0.5" fill="#ece2e2"/>
<circle cx="252.53" cy="344.6" r="0.5" fill="#ece2e2"/>
<circle cx="252.53" cy="349.58" r="0.5" fill="#ece2e2"/>
<circle cx="252.53" cy="364.52" r="0.5" fill="#ece2e2"/>
<circle cx="252.53" cy="374.48" r="1.7" fill="#d65656"/>
<circle cx="252.53" cy="389.42" r="0.5" fill="#ece2e2"/>
<circle cx="252.53" cy="394.4" r="0.5" fill="#ece2e2"/>
<circle cx="252.53" cy="399.38" r="0.5" fill="#ece2e2"/>
<circle cx="258.29" cy="349.58" r="0.5" fill="#ece2e2"/>
<circle cx="258.29" cy="354.56" r="0.5" fill="#ece2e2"/>
<circle cx="258.29" cy="359.54" r="0.5" fill="#ece2e2"/>
<circle cx="258.29" cy="374.48" r="2.1" fill="#a61c28"/>
<circle cx="258.29" cy="379.46" r="0.5" fill="#ece2e2"/>
<circle cx="258.29" cy="384.44" r="0.5" fill="#ece2e2"/>
<circle cx="264.05" cy="344.6" r="0.5" fill="#ece2e2"/>
<circle cx="264.05" cy="349.58" r="1.3" fill="#e2d0ca" stroke="#a09090" stroke-width="0.3"/>
<circle cx="264.05" cy="354.56" r="0.5" fill="#ece2e2"/>
<circle cx="264.05" cy="364.52" r="0.5" fill="#ece2e2"/>
<circle cx="264.05" cy="369.5" r="0.5" fill="#ece2e2"/>
<circle cx="264.05" cy="374.48" r="1.7" fill="#d65656"/>
<circle cx="264.05" cy="394.4" r="0.5" fill="#ece2e2"/>
<circle cx="269.8" cy="344.6" r="0.5" fill="#ece2e2"/>
<circle cx="269.8" cy="354.56" r="0.5" fill="#ece2e2"/>
<circle cx="269.8" cy="359.54" r="0.5" fill="#ece2e2"/>
<circle cx="269.8" cy="374.48" r="2.1" fill="#a61c28"/>
<circle cx="269.8" cy="379.46" r="0.5" fill="#ece2e2"/>
<circle cx="269.8" cy="384.44" r="0.5" fill="#ece2e2"/>
<circle cx="269.8" cy="394.4" r="0.5" fill="#ece2e2"/>
<circle cx="269.8" cy="399.38" r="0.5" fill="#ece2e2"/>
<circle cx="275.56" cy="344.6" r="0.5" fill="#ece2e2"/>
<circle cx="275.56" cy="349.58" r="0.5" fill="#ece2e2"/>
<circle cx="275.56" cy="354.56" r="0.5" fill="#ece2e2"/>
<circle cx="275.56" cy="359.54" r="0.5" fill="#ece2e2"/>
<circle cx="275.56" cy="364.52" r="0.5" fill="#ece2e2"/>
<circle cx="275.56" cy="374.48" r="1.7" fill="#d67470"/>
<circle cx="275.56" cy="379.46" r="0.5" fill="#ece2e2"/>
<circle cx="275.56" cy="389.42" r="0.5" fill="#ece2e2"/>
<circle cx="275.56" cy="394.4" r="0.5" fill="#ece2e2"/>
<circle cx="275.56" cy="399.38" r="0.5" fill="#ece2e2"/>
<circle cx="281.31" cy="344.6" r="0.5" fill="#ece2e2"/>
<circle cx="281.31" cy="349.58" r="0.5" fill="#ece2e2"/>
<circle cx="281.31" cy="364.52" r="0.5" fill="#ece2e2"/>
<circle cx="281.31" cy="369.5" r="0.5" fill="#ece2e2"/>
<circle cx="281.31" cy="379.46" r="2.1" fill="#a61c28"/>
<circle cx="281.31" cy="384.44" r="0.5" fill="#ece2e2"/>
<circle cx="281.31" cy="394.4" r="0.5" fill="#ece2e2"/>
<circle cx="281.31" cy="399.38" r="0.5" fill="#ece2e2"/>
<circle cx="287.06" cy="349.58" r="0.5" fill="#ece2e2"/>
<circle cx="287.06" cy="354.56" r="1.3" fill="#d8978a" stroke="#a09090" stroke-width="0.3"/>
<circle cx="287.06" cy="359.54" r="1.3" fill="#d4ab9e" stroke="#a09090" stroke-width="0.3"/>
<circle cx="287.06" cy="364.52" r="0.9" fill="#d4ab9e"/>
<circle cx="287.06" cy="369.5" r="0.9" fill="#d4ab9e"/>
<circle cx="287.06" cy="374.48" r="0.9" fill="#d4ab9e"/>
<circle cx="287.06" cy="379.46" r="1.3" fill="#d8978a" stroke="#a09090" stroke-width="0.3"/>
<circle cx="287.06" cy="384.44" r="0.9" fill="#d4ab9e"/>
<circle cx="287.06" cy="389.42" r="0.9" fill="#d4ab9e"/>
<circle cx="287.06" cy="394.4" r="1.3" fill="#d4ab9e" stroke="#a09090" stroke-width="0.3"/>
<circle cx="292.82" cy="354.56" r="0.5" fill="#ece2e2"/>
<circle cx="292.82" cy="364.52" r="1.7" fill="#d65656"/>
<circle cx="292.82" cy="369.5" r="1.3" fill="#d67470"/>
<circle cx="292.82" cy="379.46" r="1.3" fill="#d8978a" stroke="#a09090" stroke-width="0.3"/>
<circle cx="292.82" cy="389.42" r="0.5" fill="#ece2e2"/>
<circle cx="292.82" cy="394.4" r="1.3" fill="#d67470"/>
<circle cx="292.82" cy="399.38" r="1.3" fill="#d8978a" stroke="#a09090" stroke-width="0.3"/>
<circle cx="298.58" cy="344.6" r="0.5" fill="#ece2e2"/>
<circle cx="298.58" cy="349.58" r="0.5" fill="#ece2e2"/>
<circle cx="298.58" cy="354.56" r="0.5" fill="#ece2e2"/>
<circle cx="298.58" cy="359.54" r="0.5" fill="#ece2e2"/>
<circle cx="298.58" cy="364.52" r="1.7" fill="#d65656"/>
<circle cx="298.58" cy="369.5" r="1.3" fill="#d67470"/>
<circle cx="298.58" cy="379.46" r="1.3" fill="#d8978a" stroke="#a09090" stroke-width="0.3"/>
<circle cx="298.58" cy="384.44" r="0.5" fill="#ece2e2"/>
<circle cx="298.58" cy="389.42" r="0.5" fill="#ece2e2"/>
<circle cx="298.58" cy="394.4" r="1.3" fill="#d67470"/>
<circle cx="298.58" cy="399.38" r="1.3" fill="#d8978a" stroke="#a09090" stroke-width="0.3"/>
<circle cx="304.33" cy="344.6" r="1.7" fill="#d8978a" stroke="#a09090" stroke-width="0.3"/>
<circle cx="304.33" cy="349.58" r="0.5" fill="#ece2e2"/>
<circle cx="304.33" cy="354.56" r="1.7" fill="#d65656"/>
<circle cx="304.33" cy="359.54" r="1.7" fill="#d67470"/>
<circle cx="304.33" cy="364.52" r="1.7" fill="#d67470"/>
<circle cx="304.33" cy="369.5" r="1.7" fill="#d65656"/>
<circle cx="304.33" cy="374.48" r="1.3" fill="#d8978a" stroke="#a09090" stroke-width="0.3"/>
<circle cx="304.33" cy="379.46" r="2.1" fill="#d65656"/>
<circle cx="304.33" cy="384.44" r="1.7" fill="#d67470"/>
<circle cx="304.33" cy="389.42" r="1.7" fill="#d67470"/>
<circle cx="304.33" cy="394.4" r="1.7" fill="#d67470"/>
<circle cx="304.33" cy="399.38" r="0.9" fill="#d4ab9e"/>
<circle cx="310.09" cy="354.56" r="1.3" fill="#d8978a" stroke="#a09090" stroke-width="0.3"/>
<circle cx="310.09" cy="359.54" r="0.9" fill="#d4ab9e"/>
<circle cx="310.09" cy="364.52" r="0.9" fill="#d4ab9e"/>
<circle cx="310.09" cy="369.5" r="0.9" fill="#d4ab9e"/>
<circle cx="310.09" cy="379.46" r="1.3" fill="#d8978a" stroke="#a09090" stroke-width="0.3"/>
<circle cx="310.09" cy="384.44" r="0.5" fill="#ece2e2"/>
<circle cx="310.09" cy="389.42" r="0.5" fill="#ece2e2"/>
<circle cx="310.09" cy="394.4" r="0.5" fill="#ece2e2"/>
<circle cx="310.09" cy="399.38" r="0.5" fill="#ece2e2"/>
<circle cx="315.84" cy="344.6" r="0.5" fill="#ece2e2"/>
<circle cx="315.84" cy="349.58" r="0.5" fill="#ece2e2"/>
<circle cx="315.84" cy="354.56" r="0.5" fill="#ece2e2"/>
<circle cx="315.84" cy="374.48" r="0.5" fill="#ece2e2"/>
<circle cx="315.84" cy="384.44" r="2.1" fill="#a61c28"/>
<circle cx="315.84" cy="389.42" r="0.5" fill="#ece2e2"/>
<circle cx="315.84" cy="394.4" r="0.5" fill="#ece2e2"/>
<circle cx="315.84" cy="399.38" r="0.5" fill="#ece2e2"/>
<circle cx="321.6" cy="344.6" r="0.5" fill="#ece2e2"/>
<circle cx="321.6" cy="349.58" r="0.5" fill="#ece2e2"/>
<circle cx="321.6" cy="354.56" r="0.9" fill="#d4ab9e"/>
<circle cx="321.6" cy="359.54" r="1.3" fill="#d4ab9e" stroke="#a09090" stroke-width="0.3"/>
<circle cx="321.6" cy="364.52" r="1.3" fill="#d4ab9e" stroke="#a09090" stroke-width="0.3"/>
<circle cx="321.6" cy="374.48" r="1.3" fill="#d4ab9e" stroke="#a09090" stroke-width="0.3"/>
<circle cx="321.6" cy="379.46" r="0.5" fill="#ece2e2"/>
<circle cx="321.6" cy="384.44" r="1.7" fill="#d65656"/>
<circle cx="321.6" cy="389.42" r="1.7" fill="#d65656"/>
<circle cx="321.6" cy="394.4" r="1.3" fill="#d67470"/>
<circle cx="321.6" cy="399.38" r="0.9" fill="#d4ab9e"/>
<circle cx="327.35" cy="349.58" r="0.5" fill="#ece2e2"/>
<circle cx="327.35" cy="354.56" r="0.5" fill="#ece2e2"/>
<circle cx="327.35" cy="359.54" r="0.5" fill="#ece2e2"/>
<circle cx="327.35" cy="364.52" r="0.5" fill="#ece2e2"/>
<circle cx="327.35" cy="369.5" r="0.5" fill="#ece2e2"/>
<circle cx="327.35" cy="374.48" r="0.5" fill="#ece2e2"/>
<circle cx="327.35" cy="379.46" r="1.3" fill="#d4ab9e" stroke="#a09090" stroke-width="0.3"/>
<circle cx="327.35" cy="384.44" r="1.7" fill="#d65656"/>
<circle cx="327.35" cy="389.42" r="1.3" fill="#d8978a" stroke="#a09090" stroke-width="0.3"/>
<circle cx="327.35" cy="394.4" r="0.5" fill="#ece2e2"/>
<circle cx="327.35" cy="399.38" r="0.5" fill="#ece2e2"/>
<circle cx="333.11" cy="374.48" r="0.5" fill="#ece2e2"/>
<circle cx="333.11" cy="379.46" r="0.5" fill="#ece2e2"/>
<circle cx="333.11" cy="384.44" r="2.1" fill="#a61c28"/>
<circle cx="333.11" cy="394.4" r="0.5" fill="#ece2e2"/>
<circle cx="338.86" cy="349.58" r="0.5" fill="#ece2e2"/>
<circle cx="338.86" cy="379.46" r="0.5" fill="#ece2e2"/>
<circle cx="338.86" cy="384.44" r="2.1" fill="#a61c28"/>
<circle cx="344.62" cy="374.48" r="0.5" fill="#ece2e2"/>
<circle cx="344.62" cy="379.46" r="0.5" fill="#ece2e2"/>
<circle cx="344.62" cy="384.44" r="2.1" fill="#a61c28"/>
<circle cx="344.62" cy="389.42" r="0.5" fill="#ece2e2"/>
<circle cx="344.62" cy="394.4" r="0.5" fill="#ece2e2"/>
<circle cx="344.62" cy="399.38" r="0.5" fill="#ece2e2"/>
<circle cx="350.37" cy="354.56" r="0.9" fill="#d4ab9e"/>
<circle cx="350.37" cy="359.54" r="1.3" fill="#d4ab9e" stroke="#a09090" stroke-width="0.3"/>
<circle cx="350.37" cy="364.52" r="1.3" fill="#d4ab9e" stroke="#a09090" stroke-width="0.3"/>
<circle cx="350.37" cy="374.48" r="1.3" fill="#d4ab9e" stroke="#a09090" stroke-width="0.3"/>
<circle cx="350.37" cy="384.44" r="1.7" fill="#d65656"/>
<circle cx="350.37" cy="389.42" r="1.7" fill="#d65656"/>
<circle cx="350.37" cy="394.4" r="1.3" fill="#d67470"/>
<circle cx="350.37" cy="399.38" r="0.9" fill="#d4ab9e"/>
<circle cx="356.12" cy="349.58" r="0.5" fill="#ece2e2"/>
<circle cx="356.12" cy="354.56" r="0.5" fill="#ece2e2"/>
<circle cx="356.12" cy="364.52" r="0.9" fill="#d4ab9e"/>
<circle cx="356.12" cy="389.42" r="1.3" fill="#d67470"/>
<circle cx="356.12" cy="394.4" r="1.3" fill="#d8978a" stroke="#a09090" stroke-width="0.3"/>
<circle cx="356.12" cy="399.38" r="1.3" fill="#d67470"/>
<circle cx="361.88" cy="344.6" r="0.5" fill="#ece2e2"/>
<circle cx="361.88" cy="354.56" r="0.5" fill="#ece2e2"/>
<circle cx="361.88" cy="359.54" r="0.5" fill="#ece2e2"/>
<circle cx="361.88" cy="364.52" r="1.7" fill="#c43a40"/>
<circle cx="361.88" cy="369.5" r="0.5" fill="#ece2e2"/>
<circle cx="361.88" cy="379.46" r="0.5" fill="#ece2e2"/>
<circle cx="361.88" cy="389.42" r="1.3" fill="#d67470"/>
<circle cx="361.88" cy="399.38" r="0.5" fill="#ece2e2"/>
<circle cx="367.63" cy="344.6" r="0.5" fill="#ece2e2"/>
<circle cx="367.63" cy="349.58" r="0.5" fill="#ece2e2"/>
<circle cx="367.63" cy="374.48" r="0.5" fill="#ece2e2"/>
<circle cx="367.63" cy="379.46" r="0.5" fill="#ece2e2"/>
<circle cx="367.63" cy="384.44" r="0.5" fill="#ece2e2"/>
<circle cx="367.63" cy="389.42" r="1.3" fill="#d67470"/>
<circle cx="367.63" cy="394.4" r="1.3" fill="#d8978a" stroke="#a09090" stroke-width="0.3"/>
<circle cx="367.63" cy="399.38" r="1.7" fill="#d65656"/>
<circle cx="373.39" cy="344.6" r="2.1" fill="#c43a40"/>
<circle cx="373.39" cy="349.58" r="0.9" fill="#d4ab9e"/>
<circle cx="373.39" cy="354.56" r="1.7" fill="#d65656"/>
<circle cx="373.39" cy="359.54" r="1.7" fill="#d65656"/>
<circle cx="373.39" cy="364.52" r="1.7" fill="#d65656"/>
<circle cx="373.39" cy="369.5" r="1.7" fill="#d65656"/>
<circle cx="373.39" cy="374.48" r="1.7" fill="#d65656"/>
<circle cx="373.39" cy="379.46" r="1.7" fill="#d65656"/>
<circle cx="373.39" cy="384.44" r="1.7" fill="#d65656"/>
<circle cx="373.39" cy="389.42" r="2.1" fill="#a61c28"/>
<circle cx="373.39" cy="394.4" r="2.1" fill="#c43a40"/>
<circle cx="373.39" cy="399.38" r="2.1" fill="#7c0a16"/>
<circle cx="379.15" cy="349.58" r="0.5" fill="#ece2e2"/>
<circle cx="379.15" cy="354.56" r="0.9" fill="#d4ab9e"/>
<circle cx="379.15" cy="359.54" r="0.9" fill="#d4ab9e"/>
<circle cx="379.15" cy="369.5" r="0.5" fill="#ece2e2"/>
<circle cx="379.15" cy="374.48" r="0.5" fill="#ece2e2"/>
<circle cx="379.15" cy="379.46" r="0.9" fill="#d4ab9e"/>
<circle cx="379.15" cy="384.44" r="0.9" fill="#d4ab9e"/>
<circle cx="379.15" cy="389.42" r="1.3" fill="#d8978a" stroke="#a09090" stroke-width="0.3"/>
<circle cx="379.15" cy="394.4" r="1.3" fill="#d8978a" stroke="#a09090" stroke-width="0.3"/>
<circle cx="379.15" cy="399.38" r="1.3" fill="#d8978a" stroke="#a09090" stroke-width="0.3"/>
<circle cx="384.9" cy="344.6" r="0.5" fill="#ece2e2"/>
<circle cx="384.9" cy="364.52" r="0.5" fill="#ece2e2"/>
<circle cx="384.9" cy="374.48" r="0.5" fill="#ece2e2"/>
<circle cx="384.9" cy="379.46" r="0.5" fill="#ece2e2"/>
<circle cx="384.9" cy="384.44" r="0.9" fill="#d4ab9e"/>
<circle cx="384.9" cy="389.42" r="0.9" fill="#d4ab9e"/>
<circle cx="384.9" cy="394.4" r="2.1" fill="#d65656"/>
<circle cx="384.9" cy="399.38" r="1.3" fill="#d8978a" stroke="#a09090" stroke-width="0.3"/>
<circle cx="390.66" cy="344.6" r="0.5" fill="#ece2e2"/>
<circle cx="390.66" cy="354.56" r="0.5" fill="#ece2e2"/>
<circle cx="390.66" cy="364.52" r="0.9" fill="#d4ab9e"/>
<circle cx="390.66" cy="374.48" r="0.5" fill="#ece2e2"/>
<circle cx="390.66" cy="379.46" r="0.5" fill="#ece2e2"/>
<circle cx="390.66" cy="384.44" r="0.9" fill="#d4ab9e"/>
<circle cx="390.66" cy="389.42" r="1.3" fill="#d67470"/>
<circle cx="390.66" cy="394.4" r="1.3" fill="#d8978a" stroke="#a09090" stroke-width="0.3"/>
<circle cx="390.66" cy="399.38" r="1.3" fill="#d8978a" stroke="#a09090" stroke-width="0.3"/>
<circle cx="396.41" cy="354.56" r="0.9" fill="#d4ab9e"/>
<circle cx="396.41" cy="359.54" r="1.3" fill="#d4ab9e" stroke="#a09090" stroke-width="0.3"/>
<circle cx="396.41" cy="364.52" r="1.3" fill="#d4ab9e" stroke="#a09090" stroke-width="0.3"/>
<circle cx="396.41" cy="369.5" r="0.5" fill="#ece2e2"/>
<circle cx="396.41" cy="374.48" r="1.3" fill="#d4ab9e" stroke="#a09090" stroke-width="0.3"/>
<circle cx="396.41" cy="379.46" r="0.9" fill="#d4ab9e"/>
<circle cx="396.41" cy="384.44" r="1.7" fill="#d65656"/>
<circle cx="396.41" cy="389.42" r="1.7" fill="#d65656"/>
<circle cx="396.41" cy="394.4" r="1.3" fill="#d67470"/>
<circle cx="396.41" cy="399.38" r="0.9" fill="#d4ab9e"/>
<circle cx="402.17" cy="344.6" r="0.5" fill="#ece2e2"/>
<circle cx="402.17" cy="349.58" r="0.5" fill="#ece2e2"/>
<circle cx="402.17" cy="359.54" r="0.5" fill="#ece2e2"/>
<circle cx="402.17" cy="364.52" r="1.7" fill="#d65656"/>
<circle cx="402.17" cy="369.5" r="1.3" fill="#d67470"/>
<circle cx="402.17" cy="379.46" r="1.3" fill="#d8978a" stroke="#a09090" stroke-width="0.3"/>
<circle cx="402.17" cy="384.44" r="0.5" fill="#ece2e2"/>
<circle cx="402.17" cy="394.4" r="1.3" fill="#d67470"/>
<circle cx="402.17" cy="399.38" r="1.3" fill="#d8978a" stroke="#a09090" stroke-width="0.3"/>
<circle cx="407.92" cy="349.58" r="0.5" fill="#ece2e2"/>
<circle cx="407.92" cy="364.52" r="0.9" fill="#d4ab9e"/>
<circle cx="407.92" cy="379.46" r="1.3" fill="#d8978a" stroke="#a09090" stroke-width="0.3"/>
<circle cx="407.92" cy="384.44" r="0.5" fill="#ece2e2"/>
<circle cx="407.92" cy="394.4" r="1.3" fill="#d67470"/>
<circle cx="407.92" cy="399.38" r="0.9" fill="#d4ab9e"/>
<circle cx="413.68" cy="344.6" r="0.5" fill="#ece2e2"/>
<circle cx="413.68" cy="349.58" r="0.5" fill="#ece2e2"/>
<circle cx="413.68" cy="354.56" r="0.5" fill="#ece2e2"/>
<circle cx="413.68" cy="359.54" r="0.5" fill="#ece2e2"/>
<circle cx="413.68" cy="364.52" r="0.5" fill="#ece2e2"/>
<circle cx="413.68" cy="369.5" r="0.5" fill="#ece2e2"/>
<circle cx="413.68" cy="374.48" r="0.5" fill="#ece2e2"/>
<circle cx="413.68" cy="379.46" r="0.5" fill="#ece2e2"/>
<circle cx="413.68" cy="384.44" r="0.5" fill="#ece2e2"/>
<circle cx="413.68" cy="394.4" r="1.3" fill="#d65656"/>
<circle cx="413.68" cy="399.38" r="0.9" fill="#d4ab9e"/>
<circle cx="419.43" cy="344.6" r="0.5" fill="#ece2e2"/>
<circle cx="419.43" cy="359.54" r="0.5" fill="#ece2e2"/>
<circle cx="419.43" cy="364.52" r="1.3" fill="#d4ab9e" stroke="#a09090" stroke-width="0.3"/>
<circle cx="419.43" cy="374.48" r="0.9" fill="#d4ab9e"/>
<circle cx="419.43" cy="389.42" r="0.9" fill="#d4ab9e"/>
<circle cx="419.43" cy="394.4" r="1.3" fill="#d8978a" stroke="#a09090" stroke-width="0.3"/>
<circle cx="419.43" cy="399.38" r="1.7" fill="#d67470"/>
<circle cx="425.19" cy="344.6" r="0.5" fill="#ece2e2"/>
<circle cx="425.19" cy="349.58" r="0.5" fill="#ece2e2"/>
<circle cx="425.19" cy="354.56" r="0.5" fill="#ece2e2"/>
<circle cx="425.19" cy="364.52" r="0.9" fill="#d4ab9e"/>
<circle cx="425.19" cy="374.48" r="0.5" fill="#ece2e2"/>
<circle cx="425.19" cy="379.46" r="0.5" fill="#ece2e2"/>
<circle cx="425.19" cy="384.44" r="0.5" fill="#ece2e2"/>
<circle cx="425.19" cy="389.42" r="1.3" fill="#d8978a" stroke="#a09090" stroke-width="0.3"/>
<circle cx="425.19" cy="394.4" r="1.3" fill="#d8978a" stroke="#a09090" stroke-width="0.3"/>
<circle cx="425.19" cy="399.38" r="1.7" fill="#d67470"/>
<circle cx="430.94" cy="344.6" r="0.5" fill="#ece2e2"/>
<circle cx="430.94" cy="349.58" r="0.5" fill="#ece2e2"/>
<circle cx="430.94" cy="359.54" r="0.5" fill="#ece2e2"/>
<circle cx="430.94" cy="364.52" r="0.9" fill="#d4ab9e"/>
<circle cx="430.94" cy="374.48" r="0.5" fill="#ece2e2"/>
<circle cx="430.94" cy="379.46" r="0.5" fill="#ece2e2"/>
<circle cx="430.94" cy="389.42" r="0.9" fill="#d4ab9e"/>
<circle cx="430.94" cy="394.4" r="1.3" fill="#d67470"/>
<circle cx="430.94" cy="399.38" r="1.7" fill="#d67470"/>
<circle cx="436.69" cy="344.6" r="2.1" fill="#c43a40"/>
<circle cx="436.69" cy="349.58" r="0.9" fill="#d4ab9e"/>
<circle cx="436.69" cy="354.56" r="1.7" fill="#d65656"/>
<circle cx="436.69" cy="359.54" r="1.7" fill="#d65656"/>
<circle cx="436.69" cy="364.52" r="1.7" fill="#d65656"/>
<circle cx="436.69" cy="369.5" r="1.7" fill="#d65656"/>
<circle cx="436.69" cy="374.48" r="1.7" fill="#d65656"/>
<circle cx="436.69" cy="379.46" r="1.7" fill="#d65656"/>
<circle cx="436.69" cy="384.44" r="1.7" fill="#d65656"/>
<circle cx="436.69" cy="389.42" r="2.1" fill="#c43a40"/>
<circle cx="436.69" cy="394.4" r="2.1" fill="#c43a40"/>
<circle cx="436.69" cy="399.38" r="2.1" fill="#7c0a16"/>
<circle cx="442.45" cy="344.6" r="0.5" fill="#ece2e2"/>
<circle cx="442.45" cy="349.58" r="1.3" fill="#d8978a" stroke="#a09090" stroke-width="0.3"/>
<circle cx="442.45" cy="354.56" r="0.5" fill="#ece2e2"/>
<circle cx="442.45" cy="399.38" r="1.7" fill="#d65656"/>
<circle cx="448.21" cy="344.6" r="0.5" fill="#ece2e2"/>
<circle cx="448.21" cy="354.56" r="0.5" fill="#ece2e2"/>
<circle cx="448.21" cy="369.5" r="0.5" fill="#ece2e2"/>
<circle cx="448.21" cy="374.48" r="0.5" fill="#ece2e2"/>
<circle cx="448.21" cy="384.44" r="0.5" fill="#ece2e2"/>
<circle cx="448.21" cy="389.42" r="0.5" fill="#ece2e2"/>
<circle cx="448.21" cy="394.4" r="0.5" fill="#ece2e2"/>
<circle cx="448.21" cy="399.38" r="2.1" fill="#7c0a16"/>
<path d="M35.5,340 H452.4 V404.2 H35.5 Z" fill="none" stroke="#1a1a1a" stroke-width="1"/>
<line x1="35" y1="404.3" x2="452.9" y2="404.3" stroke="#111" stroke-width="1.4"/>
<line x1="32" y1="344.6" x2="35.5" y2="344.6" stroke="#222" stroke-width="0.8"/>
<text x="29.6" y="346.4" font-size="5.3" fill="#333" text-anchor="end" font-weight="normal" >Ery1</text>
<line x1="32" y1="349.58" x2="35.5" y2="349.58" stroke="#222" stroke-width="0.8"/>
<text x="29.6" y="351.38" font-size="5.3" fill="#333" text-anchor="end" font-weight="normal" >Ery2</text>
<line x1="32" y1="354.56" x2="35.5" y2="354.56" stroke="#222" stroke-width="0.8"/>
<text x="29.6" y="356.36" font-size="5.3" fill="#333" text-anchor="end" font-weight="normal" >Tc</text>
<line x1="32" y1="359.54" x2="35.5" y2="359.54" stroke="#222" stroke-width="0.8"/>
<text x="29.6" y="361.34" font-size="5.3" fill="#333" text-anchor="end" font-weight="normal" >NK</text>
<line x1="32" y1="364.52" x2="35.5" y2="364.52" stroke="#222" stroke-width="0.8"/>
<text x="29.6" y="366.32" font-size="5.3" fill="#333" text-anchor="end" font-weight="normal" >Dc</text>
<line x1="32" y1="369.5" x2="35.5" y2="369.5" stroke="#222" stroke-width="0.8"/>
<text x="29.6" y="371.3" font-size="5.3" fill="#333" text-anchor="end" font-weight="normal" >Bc</text>
<line x1="32" y1="374.48" x2="35.5" y2="374.48" stroke="#222" stroke-width="0.8"/>
<text x="29.6" y="376.28" font-size="5.3" fill="#333" text-anchor="end" font-weight="normal" >Meg</text>
<line x1="32" y1="379.46" x2="35.5" y2="379.46" stroke="#222" stroke-width="0.8"/>
<text x="29.6" y="381.26" font-size="5.3" fill="#333" text-anchor="end" font-weight="normal" >CLP</text>
<line x1="32" y1="384.44" x2="35.5" y2="384.44" stroke="#222" stroke-width="0.8"/>
<text x="29.6" y="386.24" font-size="5.3" fill="#333" text-anchor="end" font-weight="normal" >Neu</text>
<line x1="32" y1="389.42" x2="35.5" y2="389.42" stroke="#222" stroke-width="0.8"/>
<text x="29.6" y="391.22" font-size="5.3" fill="#333" text-anchor="end" font-weight="normal" >MPP</text>
<line x1="32" y1="394.4" x2="35.5" y2="394.4" stroke="#222" stroke-width="0.8"/>
<text x="29.6" y="396.2" font-size="5.3" fill="#333" text-anchor="end" font-weight="normal" >Mac</text>
<line x1="32" y1="399.38" x2="35.5" y2="399.38" stroke="#222" stroke-width="0.8"/>
<text x="29.6" y="401.18" font-size="5.3" fill="#333" text-anchor="end" font-weight="normal" >Mast</text>
<path d="M39.6,404.8v2.8M45.36,404.8v2.8M51.11,404.8v2.8M56.87,404.8v2.8M62.62,404.8v2.8M68.38,404.8v2.8M74.13,404.8v2.8M79.88,404.8v2.8M85.64,404.8v2.8M91.4,404.8v2.8M97.15,404.8v2.8M102.91,404.8v2.8M108.66,404.8v2.8M114.41,404.8v2.8M120.17,404.8v2.8M125.93,404.8v2.8M131.68,404.8v2.8M137.44,404.8v2.8M143.19,404.8v2.8M148.94,404.8v2.8M154.7,404.8v2.8M160.46,404.8v2.8M166.21,404.8v2.8M171.97,404.8v2.8M177.72,404.8v2.8M183.47,404.8v2.8M189.23,404.8v2.8M194.98,404.8v2.8M200.74,404.8v2.8M206.5,404.8v2.8M212.25,404.8v2.8M218,404.8v2.8M223.76,404.8v2.8M229.51,404.8v2.8M235.27,404.8v2.8M241.02,404.8v2.8M246.78,404.8v2.8M252.53,404.8v2.8M258.29,404.8v2.8M264.05,404.8v2.8M269.8,404.8v2.8M275.56,404.8v2.8M281.31,404.8v2.8M287.06,404.8v2.8M292.82,404.8v2.8M298.58,404.8v2.8M304.33,404.8v2.8M310.09,404.8v2.8M315.84,404.8v2.8M321.6,404.8v2.8M327.35,404.8v2.8M333.11,404.8v2.8M338.86,404.8v2.8M344.62,404.8v2.8M350.37,404.8v2.8M356.12,404.8v2.8M361.88,404.8v2.8M367.63,404.8v2.8M373.39,404.8v2.8M379.15,404.8v2.8M384.9,404.8v2.8M390.66,404.8v2.8M396.41,404.8v2.8M402.17,404.8v2.8M407.92,404.8v2.8M413.68,404.8v2.8M419.43,404.8v2.8M425.19,404.8v2.8M430.94,404.8v2.8M436.69,404.8v2.8M442.45,404.8v2.8M448.21,404.8v2.8" stroke="#222" stroke-width="0.8"/>
<text x="0" y="0" font-size="5" fill="#333" text-anchor="end" transform="translate(41.35,411.3) rotate(-90)">KLF1</text>
<text x="0" y="0" font-size="5" fill="#333" text-anchor="end" transform="translate(47.11,411.3) rotate(-90)">UBAC1</text>
<text x="0" y="0" font-size="5" fill="#333" text-anchor="end" transform="translate(52.86,411.3) rotate(-90)">SMIM1</text>
<text x="0" y="0" font-size="5" fill="#333" text-anchor="end" transform="translate(58.62,411.3) rotate(-90)">CD36</text>
<text x="0" y="0" font-size="5" fill="#333" text-anchor="end" transform="translate(64.37,411.3) rotate(-90)">TUBG1</text>
<text x="0" y="0" font-size="5" fill="#333" text-anchor="end" transform="translate(70.12,411.3) rotate(-90)">APOC1</text>
<text x="0" y="0" font-size="5" fill="#333" text-anchor="end" transform="translate(75.88,411.3) rotate(-90)">HBA1</text>
<text x="0" y="0" font-size="5" fill="#333" text-anchor="end" transform="translate(81.63,411.3) rotate(-90)">ALAS2</text>
<text x="0" y="0" font-size="5" fill="#333" text-anchor="end" transform="translate(87.39,411.3) rotate(-90)">SNCA</text>
<text x="0" y="0" font-size="5" fill="#333" text-anchor="end" transform="translate(93.15,411.3) rotate(-90)">HBB</text>
<text x="0" y="0" font-size="5" fill="#333" text-anchor="end" transform="translate(98.9,411.3) rotate(-90)">HBM</text>
<text x="0" y="0" font-size="5" fill="#333" text-anchor="end" transform="translate(104.66,411.3) rotate(-90)">SLC25A37</text>
<text x="0" y="0" font-size="5" fill="#333" text-anchor="end" transform="translate(110.41,411.3) rotate(-90)">BTG1</text>
<text x="0" y="0" font-size="5" fill="#333" text-anchor="end" transform="translate(116.16,411.3) rotate(-90)">TRAC</text>
<text x="0" y="0" font-size="5" fill="#333" text-anchor="end" transform="translate(121.92,411.3) rotate(-90)">HLA-C</text>
<text x="0" y="0" font-size="5" fill="#333" text-anchor="end" transform="translate(127.68,411.3) rotate(-90)">RPL11</text>
<text x="0" y="0" font-size="5" fill="#333" text-anchor="end" transform="translate(133.43,411.3) rotate(-90)">CD52</text>
<text x="0" y="0" font-size="5" fill="#333" text-anchor="end" transform="translate(139.19,411.3) rotate(-90)">CD48</text>
<text x="0" y="0" font-size="5" fill="#333" text-anchor="end" transform="translate(144.94,411.3) rotate(-90)">BTG1</text>
<text x="0" y="0" font-size="5" fill="#333" text-anchor="end" transform="translate(150.69,411.3) rotate(-90)">HLA-C</text>
<text x="0" y="0" font-size="5" fill="#333" text-anchor="end" transform="translate(156.45,411.3) rotate(-90)">CCL5</text>
<text x="0" y="0" font-size="5" fill="#333" text-anchor="end" transform="translate(162.21,411.3) rotate(-90)">GZMA</text>
<text x="0" y="0" font-size="5" fill="#333" text-anchor="end" transform="translate(167.96,411.3) rotate(-90)">HCST</text>
<text x="0" y="0" font-size="5" fill="#333" text-anchor="end" transform="translate(173.72,411.3) rotate(-90)">HLA-E</text>
<text x="0" y="0" font-size="5" fill="#333" text-anchor="end" transform="translate(179.47,411.3) rotate(-90)">PLD4</text>
<text x="0" y="0" font-size="5" fill="#333" text-anchor="end" transform="translate(185.22,411.3) rotate(-90)">HLA-DRB1</text>
<text x="0" y="0" font-size="5" fill="#333" text-anchor="end" transform="translate(190.98,411.3) rotate(-90)">HLA-DPB1</text>
<text x="0" y="0" font-size="5" fill="#333" text-anchor="end" transform="translate(196.73,411.3) rotate(-90)">ALOX5AP</text>
<text x="0" y="0" font-size="5" fill="#333" text-anchor="end" transform="translate(202.49,411.3) rotate(-90)">IRF8</text>
<text x="0" y="0" font-size="5" fill="#333" text-anchor="end" transform="translate(208.25,411.3) rotate(-90)">JCHAIN</text>
<text x="0" y="0" font-size="5" fill="#333" text-anchor="end" transform="translate(214,411.3) rotate(-90)">CD79A</text>
<text x="0" y="0" font-size="5" fill="#333" text-anchor="end" transform="translate(219.75,411.3) rotate(-90)">IGHM</text>
<text x="0" y="0" font-size="5" fill="#333" text-anchor="end" transform="translate(225.51,411.3) rotate(-90)">BTG1</text>
<text x="0" y="0" font-size="5" fill="#333" text-anchor="end" transform="translate(231.26,411.3) rotate(-90)">CD79B</text>
<text x="0" y="0" font-size="5" fill="#333" text-anchor="end" transform="translate(237.02,411.3) rotate(-90)">CD37</text>
<text x="0" y="0" font-size="5" fill="#333" text-anchor="end" transform="translate(242.77,411.3) rotate(-90)">HLA-DRB1</text>
<text x="0" y="0" font-size="5" fill="#333" text-anchor="end" transform="translate(248.53,411.3) rotate(-90)">LIMS1</text>
<text x="0" y="0" font-size="5" fill="#333" text-anchor="end" transform="translate(254.28,411.3) rotate(-90)">ACTN1</text>
<text x="0" y="0" font-size="5" fill="#333" text-anchor="end" transform="translate(260.04,411.3) rotate(-90)">THBS1</text>
<text x="0" y="0" font-size="5" fill="#333" text-anchor="end" transform="translate(265.8,411.3) rotate(-90)">STOM</text>
<text x="0" y="0" font-size="5" fill="#333" text-anchor="end" transform="translate(271.55,411.3) rotate(-90)">RAB27B</text>
<text x="0" y="0" font-size="5" fill="#333" text-anchor="end" transform="translate(277.31,411.3) rotate(-90)">NAA38</text>
<text x="0" y="0" font-size="5" fill="#333" text-anchor="end" transform="translate(283.06,411.3) rotate(-90)">SPINK2</text>
<text x="0" y="0" font-size="5" fill="#333" text-anchor="end" transform="translate(288.81,411.3) rotate(-90)">ARHGDIB</text>
<text x="0" y="0" font-size="5" fill="#333" text-anchor="end" transform="translate(294.57,411.3) rotate(-90)">HLA-DPB1</text>
<text x="0" y="0" font-size="5" fill="#333" text-anchor="end" transform="translate(300.33,411.3) rotate(-90)">HLA-DRB1</text>
<text x="0" y="0" font-size="5" fill="#333" text-anchor="end" transform="translate(306.08,411.3) rotate(-90)">RPL5</text>
<text x="0" y="0" font-size="5" fill="#333" text-anchor="end" transform="translate(311.84,411.3) rotate(-90)">C6orf48</text>
<text x="0" y="0" font-size="5" fill="#333" text-anchor="end" transform="translate(317.59,411.3) rotate(-90)">MPO</text>
<text x="0" y="0" font-size="5" fill="#333" text-anchor="end" transform="translate(323.35,411.3) rotate(-90)">SRGN</text>
<text x="0" y="0" font-size="5" fill="#333" text-anchor="end" transform="translate(329.1,411.3) rotate(-90)">PRSS57</text>
<text x="0" y="0" font-size="5" fill="#333" text-anchor="end" transform="translate(334.86,411.3) rotate(-90)">PRTN3</text>
<text x="0" y="0" font-size="5" fill="#333" text-anchor="end" transform="translate(340.61,411.3) rotate(-90)">ELANE</text>
<text x="0" y="0" font-size="5" fill="#333" text-anchor="end" transform="translate(346.37,411.3) rotate(-90)">AZU1</text>
<text x="0" y="0" font-size="5" fill="#333" text-anchor="end" transform="translate(352.12,411.3) rotate(-90)">SRGN</text>
<text x="0" y="0" font-size="5" fill="#333" text-anchor="end" transform="translate(357.88,411.3) rotate(-90)">LGALS1</text>
<text x="0" y="0" font-size="5" fill="#333" text-anchor="end" transform="translate(363.63,411.3) rotate(-90)">ALOX5AP</text>
<text x="0" y="0" font-size="5" fill="#333" text-anchor="end" transform="translate(369.38,411.3) rotate(-90)">SAT1</text>
<text x="0" y="0" font-size="5" fill="#333" text-anchor="end" transform="translate(375.14,411.3) rotate(-90)">FTL</text>
<text x="0" y="0" font-size="5" fill="#333" text-anchor="end" transform="translate(380.9,411.3) rotate(-90)">ANXA1</text>
<text x="0" y="0" font-size="5" fill="#333" text-anchor="end" transform="translate(386.65,411.3) rotate(-90)">LYZ</text>
<text x="0" y="0" font-size="5" fill="#333" text-anchor="end" transform="translate(392.41,411.3) rotate(-90)">LGALS1</text>
<text x="0" y="0" font-size="5" fill="#333" text-anchor="end" transform="translate(398.16,411.3) rotate(-90)">SRGN</text>
<text x="0" y="0" font-size="5" fill="#333" text-anchor="end" transform="translate(403.92,411.3) rotate(-90)">HLA-DRB1</text>
<text x="0" y="0" font-size="5" fill="#333" text-anchor="end" transform="translate(409.67,411.3) rotate(-90)">LST1</text>
<text x="0" y="0" font-size="5" fill="#333" text-anchor="end" transform="translate(415.43,411.3) rotate(-90)">S100A9</text>
<text x="0" y="0" font-size="5" fill="#333" text-anchor="end" transform="translate(421.18,411.3) rotate(-90)">PSAP</text>
<text x="0" y="0" font-size="5" fill="#333" text-anchor="end" transform="translate(426.94,411.3) rotate(-90)">SAT1</text>
<text x="0" y="0" font-size="5" fill="#333" text-anchor="end" transform="translate(432.69,411.3) rotate(-90)">ANXA2</text>
<text x="0" y="0" font-size="5" fill="#333" text-anchor="end" transform="translate(438.44,411.3) rotate(-90)">FTL</text>
<text x="0" y="0" font-size="5" fill="#333" text-anchor="end" transform="translate(444.2,411.3) rotate(-90)">LGALS3</text>
<text x="0" y="0" font-size="5" fill="#333" text-anchor="end" transform="translate(449.96,411.3) rotate(-90)">MRC1</text>
<rect x="37.8" y="337.6" width="32.38" height="1.9" fill="#9a9a9a" stroke="#444" stroke-width="0.45"/>
<path d="M37.8,338.5 v1.6 M70.17,338.5 v1.6" stroke="#222" stroke-width="0.7"/>
<text x="53.99" y="333.6" font-size="4.9" fill="#333" text-anchor="middle" font-weight="normal" >Ery1</text>
<rect x="72.33" y="337.6" width="32.38" height="1.9" fill="#9a9a9a" stroke="#444" stroke-width="0.45"/>
<path d="M72.33,338.5 v1.6 M104.7,338.5 v1.6" stroke="#222" stroke-width="0.7"/>
<text x="88.52" y="333.6" font-size="4.9" fill="#333" text-anchor="middle" font-weight="normal" >Ery2</text>
<rect x="106.86" y="337.6" width="32.38" height="1.9" fill="#9a9a9a" stroke="#444" stroke-width="0.45"/>
<path d="M106.86,338.5 v1.6 M139.24,338.5 v1.6" stroke="#222" stroke-width="0.7"/>
<text x="123.05" y="333.6" font-size="4.9" fill="#333" text-anchor="middle" font-weight="normal" >Tc</text>
<rect x="141.39" y="337.6" width="32.38" height="1.9" fill="#9a9a9a" stroke="#444" stroke-width="0.45"/>
<path d="M141.39,338.5 v1.6 M173.77,338.5 v1.6" stroke="#222" stroke-width="0.7"/>
<text x="157.58" y="333.6" font-size="4.9" fill="#333" text-anchor="middle" font-weight="normal" >NK</text>
<rect x="175.92" y="337.6" width="32.38" height="1.9" fill="#9a9a9a" stroke="#444" stroke-width="0.45"/>
<path d="M175.92,338.5 v1.6 M208.3,338.5 v1.6" stroke="#222" stroke-width="0.7"/>
<text x="192.11" y="333.6" font-size="4.9" fill="#333" text-anchor="middle" font-weight="normal" >Dc</text>
<rect x="210.45" y="337.6" width="32.38" height="1.9" fill="#9a9a9a" stroke="#444" stroke-width="0.45"/>
<path d="M210.45,338.5 v1.6 M242.82,338.5 v1.6" stroke="#222" stroke-width="0.7"/>
<text x="226.64" y="333.6" font-size="4.9" fill="#333" text-anchor="middle" font-weight="normal" >Bc</text>
<rect x="244.98" y="337.6" width="32.38" height="1.9" fill="#9a9a9a" stroke="#444" stroke-width="0.45"/>
<path d="M244.98,338.5 v1.6 M277.36,338.5 v1.6" stroke="#222" stroke-width="0.7"/>
<text x="261.17" y="333.6" font-size="4.9" fill="#333" text-anchor="middle" font-weight="normal" >Meg</text>
<rect x="279.51" y="337.6" width="32.38" height="1.9" fill="#9a9a9a" stroke="#444" stroke-width="0.45"/>
<path d="M279.51,338.5 v1.6 M311.89,338.5 v1.6" stroke="#222" stroke-width="0.7"/>
<text x="295.7" y="333.6" font-size="4.9" fill="#333" text-anchor="middle" font-weight="normal" >CLP</text>
<rect x="314.04" y="337.6" width="32.37" height="1.9" fill="#9a9a9a" stroke="#444" stroke-width="0.45"/>
<path d="M314.04,338.5 v1.6 M346.42,338.5 v1.6" stroke="#222" stroke-width="0.7"/>
<text x="330.23" y="333.6" font-size="4.9" fill="#333" text-anchor="middle" font-weight="normal" >Neu</text>
<rect x="348.57" y="337.6" width="32.38" height="1.9" fill="#9a9a9a" stroke="#444" stroke-width="0.45"/>
<path d="M348.57,338.5 v1.6 M380.95,338.5 v1.6" stroke="#222" stroke-width="0.7"/>
<text x="364.76" y="333.6" font-size="4.9" fill="#333" text-anchor="middle" font-weight="normal" >MPP</text>
<rect x="383.1" y="337.6" width="32.38" height="1.9" fill="#9a9a9a" stroke="#444" stroke-width="0.45"/>
<path d="M383.1,338.5 v1.6 M415.48,338.5 v1.6" stroke="#222" stroke-width="0.7"/>
<text x="399.29" y="333.6" font-size="4.9" fill="#333" text-anchor="middle" font-weight="normal" >Mac</text>
<rect x="417.63" y="337.6" width="32.38" height="1.9" fill="#9a9a9a" stroke="#444" stroke-width="0.45"/>
<path d="M417.63,338.5 v1.6 M450.01,338.5 v1.6" stroke="#222" stroke-width="0.7"/>
<text x="433.82" y="333.6" font-size="4.9" fill="#333" text-anchor="middle" font-weight="normal" >Mast</text>
<path d="M452.6,344.6 H458.8 V349.58 H452.6 M452.6,354.56 H455 V359.54 H452.6 M452.6,364.52 H455 V369.5 H452.6 M452.6,374.48 H455 V379.46 H452.6 M452.6,384.44 H455 V389.42 H452.6 M452.6,394.4 H455 V399.38 H452.6 M455,357.05 H457.6 V367.01 H455 M455,376.97 H456.8 V386.93 H455 M456.8,381.95 H458.2 V396.89 H456.8 M457.6,362.03 H459.6 V389.42 H457.6 M458.8,347.09 H464.6 V371.4 H458.8" fill="none" stroke="#111" stroke-width="0.9"/>
<text x="490.5" y="347.9" font-size="5.2" fill="#333" text-anchor="middle" font-weight="normal" >Fraction of cells</text>
<text x="490.8" y="354.4" font-size="5.2" fill="#333" text-anchor="middle" font-weight="normal" >in group (%)</text>
<circle cx="478.6" cy="359" r="0.55" fill="#111"/>
<circle cx="478.6" cy="362.3" r="0.35" fill="#333"/>
<circle cx="483.1" cy="359" r="0.9" fill="#111"/>
<circle cx="483.1" cy="362.3" r="0.35" fill="#333"/>
<circle cx="487.5" cy="359" r="1.3" fill="#111"/>
<circle cx="487.5" cy="362.3" r="0.35" fill="#333"/>
<circle cx="492.1" cy="359" r="1.65" fill="#111"/>
<circle cx="492.1" cy="362.3" r="0.35" fill="#333"/>
<circle cx="496.7" cy="359" r="1.95" fill="#111"/>
<circle cx="496.7" cy="362.3" r="0.35" fill="#333"/>
<text x="478.6" y="367.9" font-size="5.2" fill="#333" text-anchor="middle" font-weight="normal" >20</text>
<text x="487.5" y="367.9" font-size="5.2" fill="#333" text-anchor="middle" font-weight="normal" >60</text>
<text x="496.7" y="367.9" font-size="5.2" fill="#333" text-anchor="middle" font-weight="normal" >100</text>
<text x="488" y="376.5" font-size="5.2" fill="#333" text-anchor="middle" font-weight="normal" >Mean expression</text>
<text x="488" y="382.5" font-size="5.2" fill="#333" text-anchor="middle" font-weight="normal" >in group</text>
<defs><linearGradient id="gC" x1="0" x2="1"><stop offset="0" stop-color="#fffaf0"/><stop offset="0.2" stop-color="#f8dcc0"/><stop offset="0.5" stop-color="#e86a50"/><stop offset="0.75" stop-color="#c81a20"/><stop offset="1" stop-color="#6a0010"/></linearGradient><linearGradient id="gE" x1="0" x2="1"><stop offset="0" stop-color="#ffffff"/><stop offset="0.35" stop-color="#f0b0b0"/><stop offset="0.65" stop-color="#d83030"/><stop offset="1" stop-color="#8a0010"/></linearGradient></defs>
<rect x="476.8" y="387.5" width="23.6" height="3.6" fill="url(#gC)" stroke="#222" stroke-width="0.5"/>
<path d="M477,391.1v0.9 M493.6,391.1v0.9" stroke="#222" stroke-width="0.5"/>
<text x="477.1" y="399" font-size="5.2" fill="#333" text-anchor="middle" font-weight="normal" >0</text>
<text x="493.6" y="399" font-size="5.2" fill="#333" text-anchor="middle" font-weight="normal" >5</text>
<circle cx="42.9" cy="629.9" r="0.55" fill="#f4b0b0"/>
<circle cx="42.9" cy="634.15" r="0.9" fill="#ec8c8c"/>
<circle cx="42.9" cy="638.4" r="2.1" fill="#7c0010"/>
<circle cx="48.79" cy="629.9" r="0.55" fill="#f4b0b0"/>
<circle cx="48.79" cy="634.15" r="0.9" fill="#ec8c8c"/>
<circle cx="48.79" cy="638.4" r="2.1" fill="#7c0010"/>
<circle cx="54.67" cy="629.9" r="0.55" fill="#f4b0b0"/>
<circle cx="54.67" cy="634.15" r="0.9" fill="#ec8c8c"/>
<circle cx="54.67" cy="638.4" r="2.1" fill="#7c0010"/>
<circle cx="60.56" cy="629.9" r="0.55" fill="#f4b0b0"/>
<circle cx="60.56" cy="634.15" r="0.9" fill="#ec8c8c"/>
<circle cx="60.56" cy="638.4" r="2.1" fill="#7c0010"/>
<circle cx="66.44" cy="629.9" r="0.55" fill="#f4b0b0"/>
<circle cx="66.44" cy="634.15" r="0.9" fill="#ec8c8c"/>
<circle cx="66.44" cy="638.4" r="2.1" fill="#7c0010"/>
<circle cx="72.33" cy="629.9" r="0.55" fill="#f4b0b0"/>
<circle cx="72.33" cy="634.15" r="0.9" fill="#ec8c8c"/>
<circle cx="72.33" cy="638.4" r="2.1" fill="#7c0010"/>
<circle cx="78.22" cy="629.9" r="1.3" fill="#b01a22"/>
<circle cx="78.22" cy="634.15" r="0.55" fill="#f4b0b0"/>
<circle cx="78.22" cy="638.4" r="2.1" fill="#7c0010"/>
<circle cx="84.1" cy="629.9" r="0.9" fill="#960a16"/>
<circle cx="84.1" cy="634.15" r="0.55" fill="#f4d4d4"/>
<circle cx="84.1" cy="638.4" r="1.3" fill="#960a16"/>
<circle cx="89.99" cy="629.9" r="0.9" fill="#960a16"/>
<circle cx="89.99" cy="634.15" r="0.55" fill="#f4d4d4"/>
<circle cx="89.99" cy="638.4" r="0.9" fill="#f4b0b0"/>
<circle cx="95.87" cy="629.9" r="0.55" fill="#f4b0b0"/>
<circle cx="95.87" cy="634.15" r="0.55" fill="#f4d4d4"/>
<circle cx="95.87" cy="638.4" r="2.5" fill="#7c0010"/>
<circle cx="101.76" cy="629.9" r="0.9" fill="#960a16"/>
<circle cx="101.76" cy="634.15" r="0.55" fill="#f4d4d4"/>
<circle cx="101.76" cy="638.4" r="0.9" fill="#f4b0b0"/>
<circle cx="107.65" cy="629.9" r="0.9" fill="#960a16"/>
<circle cx="107.65" cy="634.15" r="0.55" fill="#f4d4d4"/>
<circle cx="107.65" cy="638.4" r="1.7" fill="#7c0010"/>
<circle cx="113.53" cy="629.9" r="1.7" fill="#7c0010"/>
<circle cx="113.53" cy="634.15" r="1.7" fill="#7c0010"/>
<circle cx="113.53" cy="638.4" r="0.55" fill="#f4d4d4"/>
<circle cx="119.42" cy="629.9" r="1.7" fill="#7c0010"/>
<circle cx="119.42" cy="634.15" r="1.7" fill="#960a16"/>
<circle cx="119.42" cy="638.4" r="0.55" fill="#f4d4d4"/>
<circle cx="125.3" cy="629.9" r="0.55" fill="#f4b0b0"/>
<circle cx="125.3" cy="634.15" r="0.55" fill="#f4d4d4"/>
<circle cx="131.19" cy="629.9" r="0.55" fill="#f4b0b0"/>
<circle cx="131.19" cy="634.15" r="0.55" fill="#f4d4d4"/>
<circle cx="137.08" cy="629.9" r="1.3" fill="#960a16"/>
<circle cx="137.08" cy="634.15" r="0.9" fill="#ec8c8c"/>
<circle cx="142.96" cy="629.9" r="1.3" fill="#960a16"/>
<circle cx="142.96" cy="634.15" r="1.3" fill="#960a16"/>
<circle cx="148.85" cy="629.9" r="1.7" fill="#7c0010"/>
<circle cx="148.85" cy="634.15" r="1.7" fill="#7c0010"/>
<circle cx="154.73" cy="629.9" r="0.9" fill="#960a16"/>
<circle cx="154.73" cy="634.15" r="0.9" fill="#ec8c8c"/>
<circle cx="160.62" cy="629.9" r="1.7" fill="#7c0010"/>
<circle cx="160.62" cy="634.15" r="1.7" fill="#960a16"/>
<circle cx="166.51" cy="629.9" r="0.55" fill="#f4b0b0"/>
<circle cx="166.51" cy="634.15" r="2.1" fill="#960a16"/>
<circle cx="166.51" cy="638.4" r="2.1" fill="#7c0010"/>
<circle cx="172.39" cy="629.9" r="1.3" fill="#960a16"/>
<circle cx="172.39" cy="634.15" r="1.7" fill="#960a16"/>
<circle cx="178.28" cy="629.9" r="0.9" fill="#960a16"/>
<circle cx="178.28" cy="634.15" r="0.9" fill="#ec8c8c"/>
<circle cx="184.16" cy="629.9" r="0.55" fill="#f4b0b0"/>
<circle cx="184.16" cy="634.15" r="0.55" fill="#f4d4d4"/>
<circle cx="190.05" cy="629.9" r="0.55" fill="#f4b0b0"/>
<circle cx="190.05" cy="634.15" r="0.55" fill="#f4d4d4"/>
<circle cx="195.94" cy="629.9" r="1.7" fill="#7c0010"/>
<circle cx="195.94" cy="634.15" r="2.1" fill="#7c0010"/>
<circle cx="201.82" cy="629.9" r="0.55" fill="#f4d4d4"/>
<circle cx="201.82" cy="634.15" r="0.55" fill="#f4d4d4"/>
<circle cx="207.71" cy="629.9" r="1.3" fill="#960a16"/>
<circle cx="207.71" cy="634.15" r="1.3" fill="#960a16"/>
<circle cx="207.71" cy="638.4" r="0.55" fill="#f4b0b0"/>
<circle cx="213.59" cy="629.9" r="1.3" fill="#960a16"/>
<circle cx="213.59" cy="634.15" r="1.3" fill="#b01a22"/>
<circle cx="219.48" cy="629.9" r="0.55" fill="#f4b0b0"/>
<circle cx="225.37" cy="629.9" r="0.9" fill="#960a16"/>
<circle cx="225.37" cy="634.15" r="0.9" fill="#b01a22"/>
<circle cx="231.25" cy="629.9" r="1.3" fill="#960a16"/>
<circle cx="231.25" cy="634.15" r="1.3" fill="#b01a22"/>
<circle cx="237.14" cy="629.9" r="0.9" fill="#ec8c8c"/>
<circle cx="237.14" cy="634.15" r="0.9" fill="#ec8c8c"/>
<circle cx="243.02" cy="629.9" r="0.55" fill="#f4d4d4"/>
<circle cx="248.91" cy="629.9" r="0.55" fill="#f4b0b0"/>
<circle cx="248.91" cy="634.15" r="0.55" fill="#f4d4d4"/>
<circle cx="254.8" cy="629.9" r="0.55" fill="#f4d4d4"/>
<circle cx="254.8" cy="634.15" r="1.3" fill="#e06060"/>
<circle cx="254.8" cy="638.4" r="2.1" fill="#7c0010"/>
<circle cx="260.68" cy="629.9" r="0.55" fill="#f4d4d4"/>
<circle cx="260.68" cy="634.15" r="1.3" fill="#960a16"/>
<circle cx="260.68" cy="638.4" r="0.9" fill="#b01a22"/>
<circle cx="266.57" cy="629.9" r="0.55" fill="#f4d4d4"/>
<circle cx="266.57" cy="634.15" r="0.55" fill="#f4b0b0"/>
<circle cx="272.45" cy="629.9" r="0.9" fill="#960a16"/>
<circle cx="272.45" cy="634.15" r="0.9" fill="#ec8c8c"/>
<circle cx="272.45" cy="638.4" r="1.3" fill="#ec8c8c"/>
<circle cx="278.34" cy="629.9" r="0.55" fill="#f4d4d4"/>
<circle cx="278.34" cy="634.15" r="0.55" fill="#f4b0b0"/>
<circle cx="278.34" cy="638.4" r="0.55" fill="#f4b0b0"/>
<circle cx="284.23" cy="629.9" r="0.55" fill="#f4d4d4"/>
<circle cx="284.23" cy="634.15" r="1.3" fill="#960a16"/>
<circle cx="284.23" cy="638.4" r="2.1" fill="#7c0010"/>
<circle cx="290.11" cy="629.9" r="0.55" fill="#f4b0b0"/>
<circle cx="296" cy="629.9" r="1.7" fill="#7c0010"/>
<circle cx="296" cy="634.15" r="2.1" fill="#7c0010"/>
<circle cx="301.88" cy="629.9" r="0.9" fill="#960a16"/>
<circle cx="301.88" cy="634.15" r="0.9" fill="#b01a22"/>
<circle cx="307.77" cy="629.9" r="0.9" fill="#b01a22"/>
<circle cx="307.77" cy="634.15" r="0.9" fill="#960a16"/>
<circle cx="313.66" cy="629.9" r="0.55" fill="#f4b0b0"/>
<circle cx="313.66" cy="634.15" r="2.1" fill="#e06060"/>
<circle cx="313.66" cy="638.4" r="2.5" fill="#7c0010"/>
<circle cx="319.54" cy="629.9" r="1.3" fill="#960a16"/>
<circle cx="319.54" cy="634.15" r="1.3" fill="#b01a22"/>
<circle cx="325.43" cy="629.9" r="0.55" fill="#f4d4d4"/>
<circle cx="331.31" cy="629.9" r="1.3" fill="#960a16"/>
<circle cx="331.31" cy="634.15" r="1.7" fill="#7c0010"/>
<circle cx="337.2" cy="629.9" r="0.55" fill="#f4b0b0"/>
<circle cx="337.2" cy="634.15" r="0.9" fill="#960a16"/>
<circle cx="343.09" cy="629.9" r="0.55" fill="#f4d4d4"/>
<circle cx="343.09" cy="634.15" r="0.55" fill="#f4b0b0"/>
<circle cx="348.97" cy="629.9" r="0.55" fill="#f4b0b0"/>
<circle cx="348.97" cy="634.15" r="0.9" fill="#f4b0b0"/>
<circle cx="354.86" cy="629.9" r="0.55" fill="#f4d4d4"/>
<circle cx="354.86" cy="634.15" r="0.55" fill="#f4b0b0"/>
<circle cx="360.74" cy="629.9" r="1.3" fill="#e06060"/>
<circle cx="360.74" cy="634.15" r="1.7" fill="#7c0010"/>
<circle cx="366.63" cy="629.9" r="0.55" fill="#f4b0b0"/>
<circle cx="366.63" cy="634.15" r="0.9" fill="#ec8c8c"/>
<circle cx="366.63" cy="638.4" r="1.3" fill="#960a16"/>
<circle cx="372.52" cy="629.9" r="0.9" fill="#960a16"/>
<circle cx="372.52" cy="634.15" r="0.9" fill="#ec8c8c"/>
<circle cx="378.4" cy="629.9" r="0.55" fill="#f4b0b0"/>
<circle cx="378.4" cy="634.15" r="1.3" fill="#ec8c8c"/>
<circle cx="378.4" cy="638.4" r="1.7" fill="#7c0010"/>
<circle cx="384.29" cy="629.9" r="0.55" fill="#f4d4d4"/>
<circle cx="384.29" cy="634.15" r="2.1" fill="#7c0010"/>
<circle cx="384.29" cy="638.4" r="2.1" fill="#7c0010"/>
<circle cx="390.17" cy="629.9" r="0.9" fill="#7c0010"/>
<circle cx="390.17" cy="634.15" r="0.55" fill="#f4b0b0"/>
<circle cx="396.06" cy="629.9" r="0.9" fill="#7c0010"/>
<circle cx="396.06" cy="634.15" r="0.55" fill="#f4b0b0"/>
<circle cx="401.95" cy="629.9" r="0.55" fill="#f4d4d4"/>
<circle cx="401.95" cy="634.15" r="0.9" fill="#ec8c8c"/>
<circle cx="401.95" cy="638.4" r="1.3" fill="#960a16"/>
<circle cx="407.83" cy="629.9" r="1.3" fill="#e06060"/>
<circle cx="407.83" cy="634.15" r="2.1" fill="#7c0010"/>
<circle cx="413.72" cy="629.9" r="0.9" fill="#960a16"/>
<circle cx="413.72" cy="634.15" r="0.9" fill="#ec8c8c"/>
<circle cx="419.6" cy="629.9" r="0.55" fill="#ec8c8c"/>
<circle cx="419.6" cy="634.15" r="0.55" fill="#f4b0b0"/>
<circle cx="425.49" cy="629.9" r="0.55" fill="#960a16"/>
<circle cx="431.38" cy="634.15" r="1.3" fill="#cc3a3a"/>
<circle cx="431.38" cy="638.4" r="1.7" fill="#7c0010"/>
<circle cx="437.26" cy="634.15" r="0.9" fill="#ec8c8c"/>
<circle cx="437.26" cy="638.4" r="1.7" fill="#7c0010"/>
<circle cx="443.15" cy="634.15" r="0.9" fill="#960a16"/>
<circle cx="443.15" cy="638.4" r="1.3" fill="#7c0010"/>
<circle cx="449.03" cy="634.15" r="2.1" fill="#7c0010"/>
<circle cx="449.03" cy="638.4" r="2.1" fill="#7c0010"/>
<circle cx="454.92" cy="638.4" r="1.3" fill="#7c0010"/>
<circle cx="460.81" cy="629.9" r="0.55" fill="#f4b0b0"/>
<circle cx="460.81" cy="638.4" r="0.55" fill="#f4d4d4"/>
<path d="M38.1,626.5 H465.2 V642 H38.1 Z" fill="none" stroke="#1a1a1a" stroke-width="1"/>
<line x1="37.6" y1="642.1" x2="465.7" y2="642.1" stroke="#111" stroke-width="1.3"/>
<line x1="35.2" y1="629.9" x2="38.1" y2="629.9" stroke="#222" stroke-width="0.8"/>
<text x="34.6" y="631.7" font-size="5.2" fill="#333" text-anchor="end" font-weight="normal" >Day0</text>
<line x1="35.2" y1="634.15" x2="38.1" y2="634.15" stroke="#222" stroke-width="0.8"/>
<text x="34.6" y="635.95" font-size="5.2" fill="#333" text-anchor="end" font-weight="normal" >Day3</text>
<line x1="35.2" y1="638.4" x2="38.1" y2="638.4" stroke="#222" stroke-width="0.8"/>
<text x="34.6" y="640.2" font-size="5.2" fill="#333" text-anchor="end" font-weight="normal" >Day6</text>
<path d="M42.9,642.6v3M48.79,642.6v3M54.67,642.6v3M60.56,642.6v3M66.44,642.6v3M72.33,642.6v3M78.22,642.6v3M84.1,642.6v3M89.99,642.6v3M95.87,642.6v3M101.76,642.6v3M107.65,642.6v3M113.53,642.6v3M119.42,642.6v3M125.3,642.6v3M131.19,642.6v3M137.08,642.6v3M142.96,642.6v3M148.85,642.6v3M154.73,642.6v3M160.62,642.6v3M166.51,642.6v3M172.39,642.6v3M178.28,642.6v3M184.16,642.6v3M190.05,642.6v3M195.94,642.6v3M201.82,642.6v3M207.71,642.6v3M213.59,642.6v3M219.48,642.6v3M225.37,642.6v3M231.25,642.6v3M237.14,642.6v3M243.02,642.6v3M248.91,642.6v3M254.8,642.6v3M260.68,642.6v3M266.57,642.6v3M272.45,642.6v3M278.34,642.6v3M284.23,642.6v3M290.11,642.6v3M296,642.6v3M301.88,642.6v3M307.77,642.6v3M313.66,642.6v3M319.54,642.6v3M325.43,642.6v3M331.31,642.6v3M337.2,642.6v3M343.09,642.6v3M348.97,642.6v3M354.86,642.6v3M360.74,642.6v3M366.63,642.6v3M372.52,642.6v3M378.4,642.6v3M384.29,642.6v3M390.17,642.6v3M396.06,642.6v3M401.95,642.6v3M407.83,642.6v3M413.72,642.6v3M419.6,642.6v3M425.49,642.6v3M431.38,642.6v3M437.26,642.6v3M443.15,642.6v3M449.03,642.6v3M454.92,642.6v3M460.81,642.6v3" stroke="#222" stroke-width="0.8"/>
<text x="0" y="0" font-size="5.3" fill="#333" text-anchor="end" transform="translate(44.65,649) rotate(-90)">KLF1</text>
<text x="0" y="0" font-size="5.3" fill="#333" text-anchor="end" transform="translate(50.54,649) rotate(-90)">UBAC1</text>
<text x="0" y="0" font-size="5.3" fill="#333" text-anchor="end" transform="translate(56.42,649) rotate(-90)">SMIM1</text>
<text x="0" y="0" font-size="5.3" fill="#333" text-anchor="end" transform="translate(62.31,649) rotate(-90)">CD36</text>
<text x="0" y="0" font-size="5.3" fill="#333" text-anchor="end" transform="translate(68.19,649) rotate(-90)">TUBG1</text>
<text x="0" y="0" font-size="5.3" fill="#333" text-anchor="end" transform="translate(74.08,649) rotate(-90)">APOC1</text>
<text x="0" y="0" font-size="5.3" fill="#333" text-anchor="end" transform="translate(79.97,649) rotate(-90)">HBA1</text>
<text x="0" y="0" font-size="5.3" fill="#333" text-anchor="end" transform="translate(85.85,649) rotate(-90)">ALAS2</text>
<text x="0" y="0" font-size="5.3" fill="#333" text-anchor="end" transform="translate(91.74,649) rotate(-90)">SNCA</text>
<text x="0" y="0" font-size="5.3" fill="#333" text-anchor="end" transform="translate(97.62,649) rotate(-90)">HBB</text>
<text x="0" y="0" font-size="5.3" fill="#333" text-anchor="end" transform="translate(103.51,649) rotate(-90)">HBM</text>
<text x="0" y="0" font-size="5.3" fill="#333" text-anchor="end" transform="translate(109.4,649) rotate(-90)">SLC25A37</text>
<text x="0" y="0" font-size="5.3" fill="#333" text-anchor="end" transform="translate(115.28,649) rotate(-90)">BTG1</text>
<text x="0" y="0" font-size="5.3" fill="#333" text-anchor="end" transform="translate(121.17,649) rotate(-90)">HLA-C</text>
<text x="0" y="0" font-size="5.3" fill="#333" text-anchor="end" transform="translate(127.05,649) rotate(-90)">CCL5</text>
<text x="0" y="0" font-size="5.3" fill="#333" text-anchor="end" transform="translate(132.94,649) rotate(-90)">GZMA</text>
<text x="0" y="0" font-size="5.3" fill="#333" text-anchor="end" transform="translate(138.83,649) rotate(-90)">HCST</text>
<text x="0" y="0" font-size="5.3" fill="#333" text-anchor="end" transform="translate(144.71,649) rotate(-90)">HLA-E</text>
<text x="0" y="0" font-size="5.3" fill="#333" text-anchor="end" transform="translate(150.6,649) rotate(-90)">BTG1</text>
<text x="0" y="0" font-size="5.3" fill="#333" text-anchor="end" transform="translate(156.48,649) rotate(-90)">TRAC</text>
<text x="0" y="0" font-size="5.3" fill="#333" text-anchor="end" transform="translate(162.37,649) rotate(-90)">HLA-C</text>
<text x="0" y="0" font-size="5.3" fill="#333" text-anchor="end" transform="translate(168.26,649) rotate(-90)">RPL11</text>
<text x="0" y="0" font-size="5.3" fill="#333" text-anchor="end" transform="translate(174.14,649) rotate(-90)">CD52</text>
<text x="0" y="0" font-size="5.3" fill="#333" text-anchor="end" transform="translate(180.03,649) rotate(-90)">CD48</text>
<text x="0" y="0" font-size="5.3" fill="#333" text-anchor="end" transform="translate(185.91,649) rotate(-90)">CD79A</text>
<text x="0" y="0" font-size="5.3" fill="#333" text-anchor="end" transform="translate(191.8,649) rotate(-90)">IGHM</text>
<text x="0" y="0" font-size="5.3" fill="#333" text-anchor="end" transform="translate(197.69,649) rotate(-90)">BTG1</text>
<text x="0" y="0" font-size="5.3" fill="#333" text-anchor="end" transform="translate(203.57,649) rotate(-90)">CD79B</text>
<text x="0" y="0" font-size="5.3" fill="#333" text-anchor="end" transform="translate(209.46,649) rotate(-90)">CD37</text>
<text x="0" y="0" font-size="5.3" fill="#333" text-anchor="end" transform="translate(215.34,649) rotate(-90)">HLA-DRB1</text>
<text x="0" y="0" font-size="5.3" fill="#333" text-anchor="end" transform="translate(221.23,649) rotate(-90)">PLD4</text>
<text x="0" y="0" font-size="5.3" fill="#333" text-anchor="end" transform="translate(227.12,649) rotate(-90)">HLA-DRB1</text>
<text x="0" y="0" font-size="5.3" fill="#333" text-anchor="end" transform="translate(233,649) rotate(-90)">HLA-DPB1</text>
<text x="0" y="0" font-size="5.3" fill="#333" text-anchor="end" transform="translate(238.89,649) rotate(-90)">ALOX5AP</text>
<text x="0" y="0" font-size="5.3" fill="#333" text-anchor="end" transform="translate(244.77,649) rotate(-90)">IRF8</text>
<text x="0" y="0" font-size="5.3" fill="#333" text-anchor="end" transform="translate(250.66,649) rotate(-90)">JCHAIN</text>
<text x="0" y="0" font-size="5.3" fill="#333" text-anchor="end" transform="translate(256.55,649) rotate(-90)">LIMS1</text>
<text x="0" y="0" font-size="5.3" fill="#333" text-anchor="end" transform="translate(262.43,649) rotate(-90)">ACTN1</text>
<text x="0" y="0" font-size="5.3" fill="#333" text-anchor="end" transform="translate(268.32,649) rotate(-90)">THBS1</text>
<text x="0" y="0" font-size="5.3" fill="#333" text-anchor="end" transform="translate(274.2,649) rotate(-90)">STOM</text>
<text x="0" y="0" font-size="5.3" fill="#333" text-anchor="end" transform="translate(280.09,649) rotate(-90)">RAB27B</text>
<text x="0" y="0" font-size="5.3" fill="#333" text-anchor="end" transform="translate(285.98,649) rotate(-90)">NAA38</text>
<text x="0" y="0" font-size="5.3" fill="#333" text-anchor="end" transform="translate(291.86,649) rotate(-90)">SPINK2</text>
<text x="0" y="0" font-size="5.3" fill="#333" text-anchor="end" transform="translate(297.75,649) rotate(-90)">ARHGDIB</text>
<text x="0" y="0" font-size="5.3" fill="#333" text-anchor="end" transform="translate(303.63,649) rotate(-90)">HLA-DPB1</text>
<text x="0" y="0" font-size="5.3" fill="#333" text-anchor="end" transform="translate(309.52,649) rotate(-90)">HLA-DRB1</text>
<text x="0" y="0" font-size="5.3" fill="#333" text-anchor="end" transform="translate(315.41,649) rotate(-90)">RPL5</text>
<text x="0" y="0" font-size="5.3" fill="#333" text-anchor="end" transform="translate(321.29,649) rotate(-90)">C6orf48</text>
<text x="0" y="0" font-size="5.3" fill="#333" text-anchor="end" transform="translate(327.18,649) rotate(-90)">MPO</text>
<text x="0" y="0" font-size="5.3" fill="#333" text-anchor="end" transform="translate(333.06,649) rotate(-90)">SRGN</text>
<text x="0" y="0" font-size="5.3" fill="#333" text-anchor="end" transform="translate(338.95,649) rotate(-90)">PRSS57</text>
<text x="0" y="0" font-size="5.3" fill="#333" text-anchor="end" transform="translate(344.84,649) rotate(-90)">PRTN3</text>
<text x="0" y="0" font-size="5.3" fill="#333" text-anchor="end" transform="translate(350.72,649) rotate(-90)">ELANE</text>
<text x="0" y="0" font-size="5.3" fill="#333" text-anchor="end" transform="translate(356.61,649) rotate(-90)">AZU1</text>
<text x="0" y="0" font-size="5.3" fill="#333" text-anchor="end" transform="translate(362.49,649) rotate(-90)">SRGN</text>
<text x="0" y="0" font-size="5.3" fill="#333" text-anchor="end" transform="translate(368.38,649) rotate(-90)">LGALS1</text>
<text x="0" y="0" font-size="5.3" fill="#333" text-anchor="end" transform="translate(374.27,649) rotate(-90)">ALOX5AP</text>
<text x="0" y="0" font-size="5.3" fill="#333" text-anchor="end" transform="translate(380.15,649) rotate(-90)">SAT1</text>
<text x="0" y="0" font-size="5.3" fill="#333" text-anchor="end" transform="translate(386.04,649) rotate(-90)">FTL</text>
<text x="0" y="0" font-size="5.3" fill="#333" text-anchor="end" transform="translate(391.92,649) rotate(-90)">ANXA1</text>
<text x="0" y="0" font-size="5.3" fill="#333" text-anchor="end" transform="translate(397.81,649) rotate(-90)">LYZ</text>
<text x="0" y="0" font-size="5.3" fill="#333" text-anchor="end" transform="translate(403.7,649) rotate(-90)">LGALS1</text>
<text x="0" y="0" font-size="5.3" fill="#333" text-anchor="end" transform="translate(409.58,649) rotate(-90)">SRGN</text>
<text x="0" y="0" font-size="5.3" fill="#333" text-anchor="end" transform="translate(415.47,649) rotate(-90)">HLA-DRB1</text>
<text x="0" y="0" font-size="5.3" fill="#333" text-anchor="end" transform="translate(421.35,649) rotate(-90)">LST1</text>
<text x="0" y="0" font-size="5.3" fill="#333" text-anchor="end" transform="translate(427.24,649) rotate(-90)">S100A9</text>
<text x="0" y="0" font-size="5.3" fill="#333" text-anchor="end" transform="translate(433.13,649) rotate(-90)">PSAP</text>
<text x="0" y="0" font-size="5.3" fill="#333" text-anchor="end" transform="translate(439.01,649) rotate(-90)">SAT1</text>
<text x="0" y="0" font-size="5.3" fill="#333" text-anchor="end" transform="translate(444.9,649) rotate(-90)">ANXA2</text>
<text x="0" y="0" font-size="5.3" fill="#333" text-anchor="end" transform="translate(450.78,649) rotate(-90)">FTL</text>
<text x="0" y="0" font-size="5.3" fill="#333" text-anchor="end" transform="translate(456.67,649) rotate(-90)">LGALS3</text>
<text x="0" y="0" font-size="5.3" fill="#333" text-anchor="end" transform="translate(462.56,649) rotate(-90)">MRC1</text>
<rect x="41.1" y="623.8" width="33.03" height="1.9" fill="#9a9a9a" stroke="#444" stroke-width="0.45"/>
<path d="M41.1,624.7 v1.6 M74.13,624.7 v1.6" stroke="#222" stroke-width="0.7"/>
<text x="57.61" y="619.8" font-size="4.9" fill="#333" text-anchor="middle" font-weight="normal" >Ery1</text>
<rect x="76.42" y="623.8" width="33.03" height="1.9" fill="#9a9a9a" stroke="#444" stroke-width="0.45"/>
<path d="M76.42,624.7 v1.6 M109.45,624.7 v1.6" stroke="#222" stroke-width="0.7"/>
<text x="92.93" y="619.8" font-size="4.9" fill="#333" text-anchor="middle" font-weight="normal" >Ery2</text>
<rect x="111.73" y="623.8" width="33.03" height="1.9" fill="#9a9a9a" stroke="#444" stroke-width="0.45"/>
<path d="M111.73,624.7 v1.6 M144.76,624.7 v1.6" stroke="#222" stroke-width="0.7"/>
<text x="128.25" y="619.8" font-size="4.9" fill="#333" text-anchor="middle" font-weight="normal" >NK</text>
<rect x="147.05" y="623.8" width="33.03" height="1.9" fill="#9a9a9a" stroke="#444" stroke-width="0.45"/>
<path d="M147.05,624.7 v1.6 M180.08,624.7 v1.6" stroke="#222" stroke-width="0.7"/>
<text x="163.56" y="619.8" font-size="4.9" fill="#333" text-anchor="middle" font-weight="normal" >Tc</text>
<rect x="182.36" y="623.8" width="33.03" height="1.9" fill="#9a9a9a" stroke="#444" stroke-width="0.45"/>
<path d="M182.36,624.7 v1.6 M215.39,624.7 v1.6" stroke="#222" stroke-width="0.7"/>
<text x="198.88" y="619.8" font-size="4.9" fill="#333" text-anchor="middle" font-weight="normal" >Bc</text>
<rect x="217.68" y="623.8" width="33.03" height="1.9" fill="#9a9a9a" stroke="#444" stroke-width="0.45"/>
<path d="M217.68,624.7 v1.6 M250.71,624.7 v1.6" stroke="#222" stroke-width="0.7"/>
<text x="234.19" y="619.8" font-size="4.9" fill="#333" text-anchor="middle" font-weight="normal" >Dc</text>
<rect x="253" y="623.8" width="33.03" height="1.9" fill="#9a9a9a" stroke="#444" stroke-width="0.45"/>
<path d="M253,624.7 v1.6 M286.03,624.7 v1.6" stroke="#222" stroke-width="0.7"/>
<text x="269.51" y="619.8" font-size="4.9" fill="#333" text-anchor="middle" font-weight="normal" >Meg</text>
<rect x="288.31" y="623.8" width="33.03" height="1.9" fill="#9a9a9a" stroke="#444" stroke-width="0.45"/>
<path d="M288.31,624.7 v1.6 M321.34,624.7 v1.6" stroke="#222" stroke-width="0.7"/>
<text x="304.83" y="619.8" font-size="4.9" fill="#333" text-anchor="middle" font-weight="normal" >CLP</text>
<rect x="323.63" y="623.8" width="33.03" height="1.9" fill="#9a9a9a" stroke="#444" stroke-width="0.45"/>
<path d="M323.63,624.7 v1.6 M356.66,624.7 v1.6" stroke="#222" stroke-width="0.7"/>
<text x="340.14" y="619.8" font-size="4.9" fill="#333" text-anchor="middle" font-weight="normal" >Neu</text>
<rect x="358.94" y="623.8" width="33.03" height="1.9" fill="#9a9a9a" stroke="#444" stroke-width="0.45"/>
<path d="M358.94,624.7 v1.6 M391.97,624.7 v1.6" stroke="#222" stroke-width="0.7"/>
<text x="375.46" y="619.8" font-size="4.9" fill="#333" text-anchor="middle" font-weight="normal" >MPP</text>
<rect x="394.26" y="623.8" width="33.03" height="1.9" fill="#9a9a9a" stroke="#444" stroke-width="0.45"/>
<path d="M394.26,624.7 v1.6 M427.29,624.7 v1.6" stroke="#222" stroke-width="0.7"/>
<text x="410.77" y="619.8" font-size="4.9" fill="#333" text-anchor="middle" font-weight="normal" >Mac</text>
<rect x="429.58" y="623.8" width="33.03" height="1.9" fill="#9a9a9a" stroke="#444" stroke-width="0.45"/>
<path d="M429.58,624.7 v1.6 M462.61,624.7 v1.6" stroke="#222" stroke-width="0.7"/>
<text x="446.09" y="619.8" font-size="4.9" fill="#333" text-anchor="middle" font-weight="normal" >Mast</text>
<text x="493.6" y="610.6" font-size="5.2" fill="#333" text-anchor="middle" font-weight="normal" >Fraction of cells</text>
<text x="493.6" y="617.1" font-size="5.2" fill="#333" text-anchor="middle" font-weight="normal" >in group (%)</text>
<circle cx="481.5" cy="621.5" r="0.5" fill="#111"/>
<circle cx="481.5" cy="625.2" r="0.35" fill="#333"/>
<circle cx="485.9" cy="621.5" r="0.9" fill="#111"/>
<circle cx="485.9" cy="625.2" r="0.35" fill="#333"/>
<circle cx="490.3" cy="621.5" r="1.3" fill="#111"/>
<circle cx="490.3" cy="625.2" r="0.35" fill="#333"/>
<circle cx="494.8" cy="621.5" r="1.65" fill="#111"/>
<circle cx="494.8" cy="625.2" r="0.35" fill="#333"/>
<circle cx="499.3" cy="621.5" r="1.95" fill="#111"/>
<circle cx="499.3" cy="625.2" r="0.35" fill="#333"/>
<text x="481.5" y="630.6" font-size="5.2" fill="#333" text-anchor="middle" font-weight="normal" >30</text>
<text x="490.4" y="630.6" font-size="5.2" fill="#333" text-anchor="middle" font-weight="normal" >60</text>
<text x="499.4" y="630.6" font-size="5.2" fill="#333" text-anchor="middle" font-weight="normal" >100</text>
<text x="491.8" y="638.75" font-size="5.2" fill="#333" text-anchor="middle" font-weight="normal" >Mean expression</text>
<text x="491.3" y="645.25" font-size="5.2" fill="#333" text-anchor="middle" font-weight="normal" >in group</text>
<rect x="479.4" y="649.4" width="24.3" height="3.7" fill="url(#gE)" stroke="#222" stroke-width="0.5"/>
<path d="M479.6,653.1v0.9 M491.6,653.1v0.9 M503.5,653.1v0.9" stroke="#222" stroke-width="0.5"/>
<text x="480" y="661.5" font-size="5.2" fill="#333" text-anchor="middle" font-weight="normal" >0.0</text>
<text x="491.9" y="661.5" font-size="5.2" fill="#333" text-anchor="middle" font-weight="normal" >0.5</text>
<text x="503.75" y="661.5" font-size="5.2" fill="#333" text-anchor="middle" font-weight="normal" >1.0</text>
</svg>
</body></html>
